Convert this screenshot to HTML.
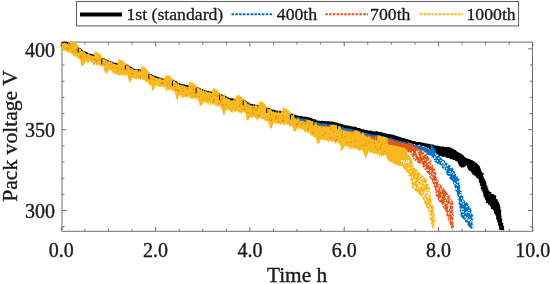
<!DOCTYPE html>
<html><head><meta charset="utf-8"><style>html,body{margin:0;padding:0;background:#fff;width:550px;height:284px;overflow:hidden}svg{display:block}</style></head>
<body><svg width="550" height="284" viewBox="0 0 550 284">
<rect width="550" height="284" fill="#fff"/>
<g fill="none" stroke="#6e6e6e" stroke-width="1">
<path d="M62,42.1 H532.5 V231.3 H62 Z"/>
<path d="M61.30,231.3 v-4.4 M61.30,42.1 v4.4 M84.88,231.3 v-2.5 M84.88,42.1 v2.5 M108.45,231.3 v-2.5 M108.45,42.1 v2.5 M132.02,231.3 v-2.5 M132.02,42.1 v2.5 M155.60,231.3 v-4.4 M155.60,42.1 v4.4 M179.18,231.3 v-2.5 M179.18,42.1 v2.5 M202.75,231.3 v-2.5 M202.75,42.1 v2.5 M226.32,231.3 v-2.5 M226.32,42.1 v2.5 M249.90,231.3 v-4.4 M249.90,42.1 v4.4 M273.47,231.3 v-2.5 M273.47,42.1 v2.5 M297.05,231.3 v-2.5 M297.05,42.1 v2.5 M320.62,231.3 v-2.5 M320.62,42.1 v2.5 M344.20,231.3 v-4.4 M344.20,42.1 v4.4 M367.77,231.3 v-2.5 M367.77,42.1 v2.5 M391.35,231.3 v-2.5 M391.35,42.1 v2.5 M414.93,231.3 v-2.5 M414.93,42.1 v2.5 M438.50,231.3 v-4.4 M438.50,42.1 v4.4 M462.07,231.3 v-2.5 M462.07,42.1 v2.5 M485.65,231.3 v-2.5 M485.65,42.1 v2.5 M509.23,231.3 v-2.5 M509.23,42.1 v2.5 M532.80,231.3 v-4.4 M532.80,42.1 v4.4 M62,226.66 h2.5 M532.5,226.66 h-2.5 M62,210.50 h4.4 M532.5,210.50 h-4.4 M62,194.34 h2.5 M532.5,194.34 h-2.5 M62,178.18 h2.5 M532.5,178.18 h-2.5 M62,162.02 h2.5 M532.5,162.02 h-2.5 M62,145.86 h2.5 M532.5,145.86 h-2.5 M62,129.70 h4.4 M532.5,129.70 h-4.4 M62,113.54 h2.5 M532.5,113.54 h-2.5 M62,97.38 h2.5 M532.5,97.38 h-2.5 M62,81.22 h2.5 M532.5,81.22 h-2.5 M62,65.06 h2.5 M532.5,65.06 h-2.5 M62,48.90 h4.4 M532.5,48.90 h-4.4"/>
</g>
<defs><clipPath id="ax"><rect x="61" y="42.2" width="472" height="189.5"/></clipPath><clipPath id="ax2"><rect x="60" y="41" width="473" height="190.5"/></clipPath></defs>
<g stroke="none" clip-path="url(#ax2)">
<path d="M61.5,42.5 L62.5,42.4 L63.5,42.3 L64.5,42.0 L65.5,42.4 L66.5,42.3 L67.5,42.4 L68.5,42.8 L69.5,42.8 L70.5,43.5 L71.5,43.5 L72.5,43.9 L73.5,44.0 L74.5,44.4 L75.5,45.0 L76.5,45.5 L77.5,46.3 L78.5,47.0 L79.5,48.0 L80.5,48.2 L81.5,49.3 L82.5,50.2 L83.5,50.7 L84.5,51.0 L85.5,51.5 L86.5,51.9 L87.5,52.6 L88.5,52.9 L89.5,53.7 L90.5,53.8 L91.5,53.7 L92.5,54.4 L93.5,54.6 L94.5,55.1 L95.5,55.0 L96.5,55.4 L97.5,55.9 L98.5,56.3 L99.5,56.4 L100.5,57.2 L101.5,57.1 L102.5,57.7 L103.5,58.2 L104.5,58.5 L105.5,58.9 L106.5,59.6 L107.5,59.9 L108.5,60.4 L109.5,60.9 L110.5,61.3 L111.5,61.4 L112.5,61.7 L113.5,62.4 L114.5,62.8 L115.5,63.1 L116.5,62.8 L117.5,63.4 L118.5,63.3 L119.5,63.3 L120.5,63.1 L121.5,63.2 L122.5,63.9 L123.5,63.7 L124.5,64.0 L125.5,64.1 L126.5,64.3 L127.5,64.7 L128.5,65.2 L129.5,66.2 L130.5,66.5 L131.5,66.9 L132.5,67.4 L133.5,68.4 L134.5,68.8 L135.5,69.0 L136.5,69.0 L137.5,69.0 L138.5,69.1 L139.5,69.4 L140.5,69.4 L141.5,69.7 L142.5,70.1 L143.5,70.4 L144.5,70.8 L145.5,71.3 L146.5,71.9 L147.5,72.7 L148.5,73.2 L149.5,73.1 L150.5,73.9 L151.5,74.0 L152.5,74.9 L153.5,75.4 L154.5,75.8 L155.5,76.0 L156.5,76.4 L157.5,76.5 L158.5,77.2 L159.5,77.6 L160.5,77.4 L161.5,78.4 L162.5,78.0 L163.5,78.7 L164.5,78.9 L165.5,78.6 L166.5,79.0 L167.5,79.0 L168.5,78.9 L169.5,79.4 L170.5,79.3 L171.5,79.3 L172.5,79.9 L173.5,79.7 L174.5,80.6 L175.5,80.7 L176.5,81.3 L177.5,82.3 L178.5,82.9 L179.5,83.1 L180.5,83.7 L181.5,84.2 L182.5,84.0 L183.5,84.2 L184.5,84.3 L185.5,85.0 L186.5,85.3 L187.5,85.1 L188.5,85.7 L189.5,85.6 L190.5,85.9 L191.5,86.0 L192.5,86.2 L193.5,86.3 L194.5,86.4 L195.5,86.7 L196.5,86.5 L197.5,87.3 L198.5,87.4 L199.5,88.1 L200.5,88.4 L201.5,88.7 L202.5,89.1 L203.5,89.6 L204.5,89.9 L205.5,90.3 L206.5,90.5 L207.5,90.9 L208.5,90.7 L209.5,91.3 L210.5,91.2 L211.5,91.7 L212.5,91.9 L213.5,91.6 L214.5,92.5 L215.5,92.7 L216.5,92.9 L217.5,92.9 L218.5,93.7 L219.5,93.9 L220.5,93.9 L221.5,94.5 L222.5,94.6 L223.5,95.4 L224.5,95.5 L225.5,96.0 L226.5,96.2 L227.5,96.9 L228.5,97.5 L229.5,98.0 L230.5,98.2 L231.5,98.4 L232.5,98.3 L233.5,98.6 L234.5,98.9 L235.5,99.1 L236.5,99.2 L237.5,98.7 L238.5,98.8 L239.5,99.0 L240.5,99.2 L241.5,99.0 L242.5,99.1 L243.5,99.7 L244.5,100.2 L245.5,100.4 L246.5,101.3 L247.5,101.9 L248.5,102.6 L249.5,103.0 L250.5,104.0 L251.5,103.8 L252.5,104.0 L253.5,104.3 L254.5,104.2 L255.5,104.7 L256.5,104.8 L257.5,104.9 L258.5,105.0 L259.5,104.9 L260.5,104.7 L261.5,105.1 L262.5,105.2 L263.5,105.8 L264.5,106.3 L265.5,106.7 L266.5,107.1 L267.5,107.2 L268.5,108.0 L269.5,108.1 L270.5,108.3 L271.5,109.2 L272.5,109.4 L273.5,109.7 L274.5,110.1 L275.5,109.9 L276.5,110.5 L277.5,110.7 L278.5,110.8 L279.5,110.7 L280.5,111.0 L281.5,111.3 L282.5,111.6 L283.5,111.2 L284.5,111.7 L285.5,111.6 L286.5,112.0 L287.5,112.5 L288.5,112.5 L289.5,113.0 L290.5,113.7 L291.5,113.6 L292.5,113.8 L293.5,114.1 L294.5,114.7 L295.5,114.8 L296.5,115.3 L297.5,115.4 L298.5,115.8 L299.5,116.0 L300.5,116.1 L301.5,116.0 L302.5,116.3 L303.5,116.7 L304.5,116.5 L305.5,116.9 L306.5,116.5 L307.5,117.1 L308.5,117.4 L309.5,117.3 L310.5,117.8 L311.5,118.0 L312.5,118.5 L313.5,119.2 L314.5,119.3 L315.5,119.3 L316.5,120.2 L317.5,120.4 L318.5,120.7 L319.5,120.8 L320.5,120.9 L321.5,120.9 L322.5,120.6 L323.5,121.0 L324.5,121.1 L325.5,121.0 L326.5,121.4 L327.5,120.9 L328.5,121.3 L329.5,121.6 L330.5,121.5 L331.5,121.5 L332.5,121.5 L333.5,121.7 L334.5,121.9 L335.5,122.6 L336.5,122.5 L337.5,122.5 L338.5,123.3 L339.5,123.4 L340.5,123.5 L341.5,124.1 L342.5,124.0 L343.5,124.7 L344.5,125.0 L345.5,125.0 L346.5,125.6 L347.5,125.3 L348.5,125.6 L349.5,126.1 L350.5,126.0 L351.5,126.4 L352.5,126.5 L353.5,126.6 L354.5,126.8 L355.5,126.7 L356.5,127.0 L357.5,127.9 L358.5,128.0 L359.5,128.0 L360.5,128.6 L361.5,129.0 L362.5,129.3 L363.5,129.4 L364.5,129.6 L365.5,130.0 L366.5,129.9 L367.5,130.3 L368.5,130.7 L369.5,130.5 L370.5,130.5 L371.5,130.8 L372.5,131.2 L373.5,131.3 L374.5,131.5 L375.5,131.6 L376.5,131.1 L377.5,131.5 L378.5,131.7 L379.5,132.0 L380.5,131.8 L381.5,132.3 L382.5,132.6 L383.5,133.0 L384.5,133.1 L385.5,133.4 L386.5,133.4 L387.5,133.9 L388.5,133.8 L389.5,133.9 L390.5,134.6 L391.5,134.3 L392.5,134.5 L393.5,134.7 L394.5,135.3 L395.5,135.6 L396.5,136.1 L397.5,136.2 L398.5,136.6 L399.5,136.7 L400.5,136.9 L401.5,137.8 L402.5,137.9 L403.5,138.0 L404.5,138.1 L405.5,138.7 L406.5,138.9 L407.5,139.2 L408.5,139.8 L409.5,139.6 L410.5,140.3 L411.5,140.2 L412.5,140.9 L413.5,141.1 L414.5,141.0 L415.5,141.4 L416.5,141.9 L417.5,142.0 L418.5,141.7 L419.5,142.1 L420.5,142.0 L421.5,142.7 L422.5,142.5 L423.5,142.7 L424.5,142.9 L425.5,143.4 L426.5,143.3 L427.5,143.5 L428.5,144.0 L429.5,143.8 L430.5,144.3 L431.5,144.5 L432.5,144.5 L433.5,144.6 L434.5,145.4 L435.5,145.4 L436.5,145.6 L437.5,145.6 L438.5,146.2 L439.5,146.0 L440.5,146.5 L441.5,146.5 L442.5,146.5 L443.5,146.5 L444.5,147.0 L445.5,147.2 L446.5,146.6 L447.5,147.1 L448.5,146.9 L449.5,147.0 L450.5,147.7 L451.5,147.7 L452.5,148.4 L453.5,149.2 L454.5,149.5 L455.5,150.1 L456.5,151.0 L457.5,151.8 L458.5,152.4 L459.5,152.8 L460.5,153.6 L461.5,153.9 L462.5,154.4 L463.5,155.4 L464.5,156.9 L465.5,157.3 L466.5,158.2 L467.5,158.6 L468.5,158.7 L469.5,159.1 L470.5,159.7 L471.5,160.1 L472.5,160.3 L473.5,160.9 L474.5,161.6 L475.5,162.7 L476.5,162.8 L477.5,164.0 L478.5,164.9 L479.5,166.0 L482.1,172.7 L483.6,172.8 L483.9,174.4 L483.1,174.9 L483.4,176.6 L483.7,177.6 L484.1,178.6 L485.3,179.4 L484.7,180.3 L485.6,180.8 L486.5,182.7 L486.2,183.7 L486.1,183.4 L486.5,185.0 L487.7,186.4 L487.0,187.3 L488.4,187.9 L488.1,188.7 L488.0,189.3 L489.3,190.9 L490.0,191.9 L491.5,192.1 L491.3,193.9 L492.8,194.0 L493.6,194.3 L494.3,195.1 L495.6,195.2 L496.3,196.3 L496.1,198.2 L496.1,198.8 L497.4,199.5 L498.1,199.7 L497.5,201.9 L499.1,201.6 L499.0,202.5 L499.8,204.8 L499.8,205.0 L500.0,206.1 L500.5,207.5 L500.8,208.5 L500.1,208.5 L501.0,210.2 L501.6,210.5 L500.8,212.9 L501.1,212.8 L501.1,215.2 L501.9,216.1 L501.3,217.1 L501.0,217.3 L502.2,219.1 L502.2,220.6 L502.2,220.6 L502.2,222.4 L503.4,223.6 L503.3,223.4 L503.2,224.7 L503.2,225.6 L504.1,227.0 L504.1,229.2 L503.7,229.2 L504.3,230.5 L499.1,229.8 L499.4,229.6 L499.2,229.2 L498.9,227.6 L499.2,226.9 L498.4,225.4 L498.0,224.2 L498.0,223.2 L497.4,222.2 L497.3,220.7 L497.1,220.3 L496.5,219.6 L496.2,218.0 L495.9,217.2 L496.5,215.8 L495.4,215.7 L495.1,213.8 L494.0,213.6 L494.3,211.7 L493.4,210.4 L493.4,210.6 L492.8,209.3 L491.1,208.9 L491.2,208.0 L490.8,207.2 L490.2,206.2 L489.2,204.6 L488.0,204.9 L488.2,203.0 L486.5,203.2 L485.7,202.0 L486.2,200.9 L485.9,200.4 L485.4,199.7 L484.3,197.6 L484.4,196.6 L483.0,196.3 L483.3,195.7 L483.5,194.6 L482.9,192.7 L482.6,191.3 L481.7,191.6 L481.9,190.4 L480.9,188.9 L480.6,188.1 L481.5,186.7 L479.8,185.6 L479.6,184.8 L480.4,184.7 L479.3,182.3 L478.7,181.6 L478.7,180.5 L479.4,179.7 L477.4,178.4 L477.4,177.9 L476.1,177.6 L475.7,176.5 L475.0,175.6 L474.0,175.5 L472.6,174.4 L472.4,173.5 L471.9,173.4 L471.5,172.8 L470.6,170.9 L469.4,171.1 L468.6,170.0 L467.9,169.5 L467.6,168.0 L466.9,166.7 L466.9,166.3 L467.0,164.9 L465.9,165.7 L464.0,167.5 L463.0,167.1 L461.9,168.3 L461.6,167.4 L460.5,166.8 L459.3,165.9 L459.2,165.4 L458.2,163.9 L458.3,162.9 L457.9,162.8 L457.2,161.3 L455.5,161.0 L455.3,160.8 L454.3,159.7 L452.7,160.2 L452.2,158.8 L450.5,159.6 L449.8,158.0 L448.5,158.2 L446.9,157.7 L446.7,158.1 L445.7,157.2 L444.0,156.3 L443.6,157.0 L442.2,156.7 L441.1,156.0 L440.7,155.9 L439.6,156.3 L438.2,156.0 L438.6,155.6 L436.9,154.7 L435.7,154.1 L435.9,152.6 L434.6,152.6 L434.2,151.9 L433.6,151.6 L432.3,149.6 L432.1,149.1 L430.8,149.3 L430.3,148.7 L429.0,149.1 L428.3,147.6 L427.6,147.9 L425.6,147.0 L424.8,147.0 L424.5,146.6 L423.3,146.0 L421.9,145.7 L420.8,146.0 L419.6,145.3 L419.4,144.4 L417.8,145.4 L417.2,145.3 L415.5,144.9 L414.6,143.9 L414.3,144.1 L413.2,144.7 L412.3,143.7 L411.2,143.5 L410.0,143.0 L409.2,142.9 L408.0,143.7 L406.0,143.4 L406.0,143.6 L405.4,142.6 L403.5,142.5 L402.9,142.0 L401.8,141.8 L400.3,142.3 L399.8,142.1 L399.0,141.9 L397.8,140.3 L397.6,140.4 L396.4,140.1 L394.9,140.0 L394.2,139.4 L392.3,139.7 L392.6,139.4 L390.4,140.2 L389.4,138.9 L389.1,138.8 L388.3,138.9 L387.5,138.2 L386.5,139.4 L384.6,138.2 L384.6,138.4 L382.8,138.5 L382.1,138.8 L381.3,138.5 L379.9,138.0 L379.6,138.4 L378.2,137.8 L376.7,137.4 L375.5,137.3 L374.3,136.7 L373.7,136.9 L373.3,136.1 L372.2,137.0 L370.5,135.8 L369.4,136.5 L368.8,135.3 L367.4,135.7 L366.3,136.2 L365.5,136.0 L364.3,135.1 L364.7,134.6 L362.3,135.6 L362.5,134.8 L360.4,134.3 L360.0,134.5 L355.0,132.4 L353.0,132.0 L351.0,131.6 L349.0,131.3 L347.0,130.9 L345.0,130.6 L343.0,129.9 L341.0,129.2 L339.0,128.5 L337.0,127.8 L335.0,127.4 L333.0,127.1 L331.0,126.7 L329.0,126.5 L327.0,126.3 L325.0,126.1 L323.0,126.0 L321.0,125.8 L319.0,125.6 L317.0,125.1 L315.0,124.4 L313.0,123.7 L311.0,123.0 L309.0,122.3 L307.0,121.8 L305.0,121.6 L303.0,121.4 L301.0,121.1 L299.0,120.7 L297.0,120.1 L295.0,119.5 L293.0,118.9 L291.0,118.3 L289.0,117.7 L287.0,117.1 L285.0,116.5 L283.0,116.0 L281.0,115.7 L279.0,115.4 L277.0,115.1 L275.0,114.8 L273.0,114.0 L271.0,113.2 L269.0,112.4 L267.0,111.7 L265.0,111.0 L263.0,110.2 L261.0,109.5 L259.0,109.3 L257.0,109.1 L255.0,108.9 L253.0,108.7 L251.0,108.4 L249.0,107.1 L247.0,105.8 L245.0,104.5 L243.0,103.8 L241.0,103.6 L239.0,103.4 L237.0,103.3 L235.0,103.1 L233.0,103.0 L231.0,102.8 L229.0,101.9 L227.0,101.0 L225.0,100.2 L223.0,99.3 L221.0,98.5 L219.0,97.9 L217.0,97.2 L215.0,96.5 L213.0,96.0 L211.0,95.6 L209.0,95.2 L207.0,94.7 L205.0,94.3 L203.0,93.5 L201.0,92.6 L199.0,91.7 L197.0,90.9 L195.0,90.6 L193.0,90.3 L191.0,90.0 L189.0,89.7 L187.0,89.3 L185.0,88.8 L183.0,88.3 L181.0,87.8 L179.0,87.0 L177.0,85.8 L175.0,84.6 L173.0,83.9 L171.0,83.6 L169.0,83.2 L167.0,82.9 L165.0,82.6 L163.0,82.4 L161.0,81.9 L159.0,81.3 L157.0,80.7 L155.0,80.0 L153.0,79.1 L151.0,78.1 L149.0,77.1 L147.0,76.2 L145.0,75.3 L143.0,74.5 L141.0,73.8 L139.0,73.4 L137.0,73.1 L135.0,72.7 L133.0,71.9 L131.0,70.8 L129.0,69.6 L127.0,68.5 L125.0,68.1 L123.0,67.7 L121.0,67.4 L119.0,67.2 L117.0,67.1 L115.0,66.6 L113.0,65.9 L111.0,65.2 L109.0,64.5 L107.0,63.6 L105.0,62.7 L103.0,61.9 L101.0,61.1 L99.0,60.4 L97.0,59.7 L95.0,58.9 L93.0,58.4 L91.0,57.8 L89.0,57.2 L87.0,56.4 L85.0,55.4 L83.0,54.4 L81.0,52.8 L79.0,51.2 L77.0,49.9 L75.0,48.9 L73.0,47.9 L71.0,47.2 L69.0,46.8 L67.0,46.4 L65.0,46.2 L63.0,46.2 Z" fill="#000"/>
<path d="M61.6,46.5 Q61.6,42.6 64,42.4 L68,42.8" stroke="#000" stroke-width="1.8" fill="none"/>
</g>
<g stroke="none" clip-path="url(#ax)">
<path d="M61.5,43.4 L62.5,43.4 L63.5,44.0 L64.5,43.6 L65.5,43.8 L66.5,43.7 L67.5,44.2 L68.5,44.4 L69.5,44.2 L70.5,44.8 L71.5,44.7 L72.5,45.2 L73.5,45.7 L74.5,46.4 L75.5,46.6 L76.5,47.4 L77.5,48.0 L78.5,48.4 L79.5,49.4 L80.5,50.2 L81.5,50.5 L82.5,51.5 L83.5,52.5 L84.5,52.9 L85.5,53.5 L86.5,53.8 L87.5,54.1 L88.5,54.8 L89.5,54.7 L90.5,55.2 L91.5,55.2 L92.5,55.7 L93.5,56.0 L94.5,56.0 L95.5,56.3 L96.5,57.3 L97.5,57.7 L98.5,57.4 L99.5,58.0 L100.5,58.6 L101.5,58.5 L102.5,58.8 L103.5,59.9 L104.5,59.9 L105.5,60.8 L106.5,60.9 L107.5,61.4 L108.5,61.8 L109.5,62.2 L110.5,62.3 L111.5,63.0 L112.5,63.2 L113.5,63.9 L114.5,63.8 L115.5,64.1 L116.5,64.8 L117.5,64.6 L118.5,64.5 L119.5,65.0 L120.5,64.7 L121.5,65.1 L122.5,65.2 L123.5,65.1 L124.5,65.6 L125.5,65.7 L126.5,65.5 L127.5,66.7 L128.5,66.7 L129.5,67.3 L130.5,68.3 L131.5,68.7 L132.5,68.9 L133.5,69.8 L134.5,69.7 L135.5,70.5 L136.5,70.6 L137.5,70.8 L138.5,70.9 L139.5,70.9 L140.5,71.4 L141.5,71.4 L142.5,71.9 L143.5,71.8 L144.5,72.4 L145.5,72.8 L146.5,73.5 L147.5,74.0 L148.5,74.1 L149.5,75.2 L150.5,75.2 L151.5,75.4 L152.5,76.5 L153.5,76.5 L154.5,76.9 L155.5,77.5 L156.5,78.0 L157.5,78.1 L158.5,78.5 L159.5,78.7 L160.5,79.2 L161.5,79.8 L162.5,79.7 L163.5,80.0 L164.5,79.9 L165.5,79.9 L166.5,80.2 L167.5,80.1 L168.5,80.6 L169.5,81.0 L170.5,80.9 L171.5,80.9 L172.5,81.2 L173.5,81.7 L174.5,81.6 L175.5,82.3 L176.5,83.2 L177.5,83.4 L178.5,84.5 L179.5,84.5 L180.5,84.8 L181.5,85.4 L182.5,85.7 L183.5,86.0 L184.5,86.1 L185.5,86.7 L186.5,87.0 L187.5,86.9 L188.5,87.4 L189.5,87.5 L190.5,87.2 L191.5,87.3 L192.5,87.4 L193.5,87.6 L194.5,88.3 L195.5,88.1 L196.5,88.0 L197.5,88.6 L198.5,88.9 L199.5,89.1 L200.5,89.8 L201.5,90.6 L202.5,90.9 L203.5,91.6 L204.5,91.6 L205.5,92.3 L206.5,92.0 L207.5,92.3 L208.5,92.8 L209.5,92.7 L210.5,92.7 L211.5,93.3 L212.5,93.7 L213.5,93.5 L214.5,93.8 L215.5,94.0 L216.5,94.7 L217.5,94.8 L218.5,95.0 L219.5,95.8 L220.5,95.5 L221.5,96.4 L222.5,96.9 L223.5,96.7 L224.5,97.1 L225.5,98.0 L226.5,98.4 L227.5,98.5 L228.5,99.2 L229.5,99.3 L230.5,100.0 L231.5,100.4 L232.5,100.7 L233.5,100.4 L234.5,100.3 L235.5,101.0 L236.5,100.8 L237.5,100.5 L238.5,100.5 L239.5,100.9 L240.5,100.9 L241.5,101.1 L242.5,101.1 L243.5,101.7 L244.5,102.0 L245.5,102.5 L246.5,102.7 L247.5,103.9 L248.5,104.2 L249.5,105.3 L250.5,105.3 L251.5,105.7 L252.5,105.8 L253.5,106.5 L254.5,106.7 L255.5,106.6 L256.5,106.4 L257.5,106.3 L258.5,107.1 L259.5,106.6 L260.5,107.2 L261.5,107.2 L262.5,107.4 L263.5,107.8 L264.5,107.9 L265.5,108.3 L266.5,109.3 L267.5,109.3 L268.5,109.9 L269.5,110.0 L270.5,110.5 L271.5,111.2 L272.5,111.4 L273.5,111.6 L274.5,112.1 L275.5,112.8 L276.5,112.2 L277.5,112.6 L278.5,112.5 L279.5,112.7 L280.5,112.8 L281.5,113.5 L282.5,113.4 L283.5,113.6 L284.5,113.7 L285.5,114.0 L286.5,114.4 L287.5,115.0 L288.5,114.7 L289.5,115.1 L290.5,115.4 L291.5,115.9 L292.5,116.3 L293.5,116.7 L294.5,117.3 L295.5,117.5 L296.5,117.3 L297.5,117.7 L298.5,118.1 L299.5,118.6 L300.5,118.6 L301.5,118.4 L302.5,118.5 L303.5,118.8 L304.5,119.1 L305.5,118.9 L306.5,119.2 L307.5,119.3 L308.5,120.0 L309.5,120.1 L310.5,120.7 L311.5,120.7 L312.5,121.0 L313.5,121.8 L314.5,121.7 L315.5,122.1 L316.5,122.1 L317.5,122.5 L318.5,122.9 L319.5,122.9 L320.5,123.2 L321.5,123.6 L322.5,123.2 L323.5,123.1 L324.5,123.6 L325.5,123.6 L326.5,123.4 L327.5,124.1 L328.5,124.3 L329.5,124.3 L330.5,124.4 L331.5,124.5 L332.5,124.9 L333.5,124.4 L334.5,125.1 L335.5,125.2 L336.5,125.5 L337.5,125.7 L338.5,125.8 L339.5,126.3 L340.5,126.3 L341.5,126.7 L342.5,126.9 L343.5,127.5 L344.5,128.1 L345.5,128.0 L346.5,128.6 L347.5,128.2 L348.5,128.8 L349.5,128.6 L350.5,129.1 L351.5,129.4 L352.5,129.7 L353.5,129.8 L354.5,129.4 L355.5,130.2 L356.5,130.1 L357.5,130.6 L358.5,130.6 L359.5,131.1 L360.5,131.6 L361.5,131.5 L362.5,132.2 L363.5,132.7 L364.5,132.7 L365.5,132.9 L366.5,133.1 L367.5,133.5 L368.5,133.6 L369.5,134.0 L370.5,134.2 L371.5,134.3 L372.5,134.5 L373.5,134.6 L374.5,134.7 L375.5,134.5 L376.5,134.9 L377.5,134.9 L378.5,134.8 L379.5,135.4 L380.5,135.3 L381.5,136.1 L382.5,136.3 L383.5,136.2 L384.5,136.8 L385.5,137.2 L386.5,137.1 L387.5,137.8 L388.5,138.0 L389.5,137.5 L390.5,138.2 L391.5,138.2 L392.5,138.7 L393.5,139.2 L394.5,139.2 L395.5,139.7 L396.5,139.8 L397.5,140.4 L398.5,141.0 L399.5,140.8 L400.5,140.8 L401.5,141.8 L402.5,141.3 L403.5,142.1 L404.5,142.3 L405.5,142.4 L406.5,143.1 L407.5,142.7 L408.5,143.0 L409.5,143.8 L410.5,143.4 L411.5,143.8 L412.5,144.0 L413.5,144.4 L414.5,144.9 L415.5,145.3 L416.5,144.9 L417.5,144.9 L418.5,145.6 L419.5,145.9 L420.5,145.4 L421.5,146.2 L422.5,146.6 L423.5,146.9 L424.5,147.3 L425.5,147.3 L426.5,148.2 L427.5,147.9 L428.5,148.8 L429.5,149.1 L430.5,149.2 L430.8,144.0 L432.7,145.0 L432.1,146.0 L433.5,147.0 L434.4,148.0 L434.5,149.0 L436.7,150.0 L435.2,151.0 L436.0,152.0 L436.0,153.0 L437.1,154.0 L439.0,155.0 L439.6,156.0 L440.0,157.0 L441.6,158.0 L441.7,159.0 L443.7,160.0 L445.3,161.0 L444.9,162.0 L446.8,163.0 L448.1,164.0 L449.1,165.0 L452.0,166.0 L452.3,167.0 L452.9,168.0 L453.7,169.0 L454.6,170.0 L454.6,171.0 L454.9,172.0 L455.1,173.0 L455.7,174.0 L456.2,175.0 L457.9,176.0 L457.4,177.0 L457.9,178.0 L459.1,179.0 L459.9,180.0 L458.4,181.0 L459.6,182.0 L459.4,183.0 L459.2,184.0 L459.7,185.0 L460.7,186.0 L459.7,187.0 L460.4,188.0 L460.3,189.0 L459.5,190.0 L461.5,191.0 L461.8,192.0 L462.1,193.0 L461.6,194.0 L461.9,195.0 L462.7,196.0 L463.8,197.0 L463.2,198.0 L463.2,199.0 L463.9,200.0 L465.1,201.0 L466.3,202.0 L467.9,203.0 L467.9,204.0 L469.1,205.0 L469.1,206.0 L469.8,207.0 L471.4,208.0 L470.9,209.0 L471.1,210.0 L471.8,211.0 L471.1,212.0 L471.4,213.0 L472.3,214.0 L472.8,215.0 L473.7,216.0 L471.9,217.0 L471.8,218.0 L473.1,219.0 L473.5,220.0 L471.9,221.0 L472.3,222.0 L473.1,223.0 L473.0,224.0 L473.5,225.0 L473.2,226.0 L473.8,227.0 L472.5,228.0 L473.5,229.0 L471.3,229.0 L470.6,228.0 L468.9,227.0 L468.6,226.0 L467.3,225.0 L467.4,224.0 L467.9,223.0 L465.4,222.0 L464.7,221.0 L464.9,220.0 L463.4,219.0 L461.9,218.0 L461.9,217.0 L460.2,216.0 L461.0,215.0 L460.2,214.0 L460.8,213.0 L460.4,212.0 L459.9,211.0 L459.3,210.0 L460.9,209.0 L459.4,208.0 L459.4,207.0 L459.6,206.0 L459.6,205.0 L458.2,204.0 L458.4,203.0 L459.3,202.0 L458.9,201.0 L457.7,200.0 L458.6,199.0 L458.9,198.0 L458.8,197.0 L457.1,196.0 L457.4,195.0 L457.1,194.0 L456.7,193.0 L457.0,192.0 L455.6,191.0 L455.0,190.0 L455.8,189.0 L455.1,188.0 L454.4,187.0 L454.1,186.0 L454.9,185.0 L453.3,184.0 L453.1,183.0 L452.9,182.0 L452.0,181.0 L451.0,180.0 L449.7,179.0 L449.1,178.0 L449.2,177.0 L448.9,176.0 L447.0,175.0 L446.5,174.0 L446.4,173.0 L446.1,172.0 L445.7,171.0 L444.5,170.0 L444.0,169.0 L441.8,168.0 L441.4,167.0 L440.7,166.0 L439.7,165.0 L437.2,164.0 L437.0,163.0 L435.2,162.0 L434.1,161.0 L433.9,160.0 L433.1,159.0 L432.0,158.0 L431.4,157.0 L431.0,156.0 L427.9,155.0 L425.5,154.0 L422.9,153.0 L419.8,152.0 L419.9,151.0 L418.2,150.0 L417.2,149.0 L414.6,148.0 L412.8,147.0 L410.2,146.0 L407.2,145.0 L405.2,144.0 L402.0,147.6 L400.0,147.1 L398.0,146.4 L396.0,145.7 L394.0,145.0 L392.0,144.3 L390.0,143.9 L388.0,143.6 L386.0,143.2 L384.0,142.7 L382.0,142.1 L380.0,141.5 L378.0,141.0 L376.0,140.8 L374.0,140.5 L372.0,140.2 L370.0,139.9 L368.0,139.6 L366.0,139.2 L364.0,138.6 L362.0,137.9 L360.0,137.3 L358.0,136.7 L356.0,136.2 L354.0,135.6 L352.0,135.3 L350.0,134.9 L348.0,134.6 L346.0,134.2 L344.0,133.7 L342.0,133.0 L340.0,132.3 L338.0,131.6 L336.0,131.1 L334.0,130.7 L332.0,130.4 L330.0,130.1 L328.0,129.9 L326.0,129.7 L324.0,129.5 L322.0,129.4 L320.0,129.2 L318.0,129.0 L316.0,128.3 L314.0,127.6 L312.0,126.9 L310.0,126.1 L308.0,125.4 L306.0,125.2 L304.0,125.0 L302.0,124.8 L300.0,124.5 L298.0,123.9 L296.0,123.3 L294.0,122.7 L292.0,122.1 L290.0,121.5 L288.0,120.9 L286.0,120.3 L284.0,119.7 L282.0,119.4 L280.0,119.1 L278.0,118.8 L276.0,118.5 L274.0,117.9 L272.0,117.1 L270.0,116.3 L268.0,115.6 L266.0,114.8 L264.0,114.1 L262.0,113.4 L260.0,112.9 L258.0,112.7 L256.0,112.5 L254.0,112.3 L252.0,112.0 L250.0,111.3 L248.0,110.0 L246.0,108.7 L244.0,107.4 L242.0,107.2 L240.0,107.0 L238.0,106.9 L236.0,106.7 L234.0,106.5 L232.0,106.4 L230.0,105.9 L228.0,105.0 L226.0,104.1 L224.0,103.2 L222.0,102.3 L220.0,101.7 L218.0,101.0 L216.0,100.4 L214.0,99.7 L212.0,99.3 L210.0,98.9 L208.0,98.5 L206.0,98.0 L204.0,97.4 L202.0,96.5 L200.0,95.7 L198.0,94.8 L196.0,94.2 L194.0,94.0 L192.0,93.7 L190.0,93.4 L188.0,93.1 L186.0,92.6 L184.0,92.1 L182.0,91.6 L180.0,91.1 L178.0,89.9 L176.0,88.7 L174.0,87.6 L172.0,87.2 L170.0,86.9 L168.0,86.6 L166.0,85.9 L164.0,85.0 L162.0,84.2 L160.0,83.9 L158.0,83.6 L156.0,83.3 L154.0,82.8 L152.0,82.1 L150.0,81.1 L148.0,80.1 L146.0,79.3 L144.0,78.4 L142.0,77.4 L140.0,76.9 L138.0,76.3 L136.0,76.0 L134.0,75.9 L132.0,74.9 L130.0,73.7 L128.0,72.6 L126.0,71.8 L124.0,71.4 L122.0,71.0 L120.0,70.8 L118.0,70.6 L116.0,70.5 L114.0,69.8 L112.0,69.0 L110.0,68.3 L108.0,67.4 L106.0,66.3 L104.0,65.3 L102.0,64.2 L100.0,63.3 L98.0,62.6 L96.0,61.9 L94.0,61.2 L92.0,60.6 L90.0,60.1 L88.0,60.0 L86.0,59.4 L84.0,58.4 L82.0,57.1 L80.0,55.5 L78.0,53.9 L76.0,52.9 L74.0,51.9 L72.0,50.9 L70.0,50.5 L68.0,49.6 L66.0,48.6 L64.0,48.0 L62.0,47.4 Z" fill="#0072C4"/>
<path d="M449.0,176.0h1.2v1.2h-1.2z M438.3,163.5h1.2v1.2h-1.2z M456.2,184.1h1.2v1.2h-1.2z M462.8,211.0h1.2v1.2h-1.2z M454.6,183.1h1.2v1.2h-1.2z M459.1,194.8h1.2v1.2h-1.2z M467.4,219.6h1.2v1.2h-1.2z M435.2,153.5h1.2v1.2h-1.2z M451.3,180.3h1.2v1.2h-1.2z M459.8,194.1h1.2v1.2h-1.2z M444.6,165.5h1.2v1.2h-1.2z M462.4,208.5h1.2v1.2h-1.2z M448.5,172.7h1.2v1.2h-1.2z M425.3,152.9h1.2v1.2h-1.2z M469.5,207.3h1.2v1.2h-1.2z M441.7,161.8h1.2v1.2h-1.2z M464.8,216.4h1.2v1.2h-1.2z M465.4,218.6h1.2v1.2h-1.2z M446.7,165.1h1.2v1.2h-1.2z M450.7,165.8h1.2v1.2h-1.2z M443.7,166.4h1.2v1.2h-1.2z M472.5,223.0h1.2v1.2h-1.2z M468.4,209.7h1.2v1.2h-1.2z M468.7,219.2h1.2v1.2h-1.2z M461.2,194.4h1.2v1.2h-1.2z M435.9,155.1h1.2v1.2h-1.2z M460.0,185.4h1.2v1.2h-1.2z M451.2,167.0h1.2v1.2h-1.2z M468.6,220.1h1.2v1.2h-1.2z M432.7,158.3h1.2v1.2h-1.2z M472.5,224.7h1.2v1.2h-1.2z M434.5,159.9h1.2v1.2h-1.2z M441.1,162.6h1.2v1.2h-1.2z M456.9,181.5h1.2v1.2h-1.2z M453.9,169.6h1.2v1.2h-1.2z M451.7,171.9h1.2v1.2h-1.2z M454.9,172.6h1.2v1.2h-1.2z M425.5,152.7h1.2v1.2h-1.2z M455.8,187.9h1.2v1.2h-1.2z M457.6,181.1h1.2v1.2h-1.2z M462.1,200.9h1.2v1.2h-1.2z M462.6,214.0h1.2v1.2h-1.2z M456.2,175.4h1.2v1.2h-1.2z M461.2,208.8h1.2v1.2h-1.2z M440.8,166.0h1.2v1.2h-1.2z M449.7,170.8h1.2v1.2h-1.2z M450.5,172.9h1.2v1.2h-1.2z M465.2,201.3h1.2v1.2h-1.2z M460.9,210.8h1.2v1.2h-1.2z M453.7,169.7h1.2v1.2h-1.2z M462.8,203.3h1.2v1.2h-1.2z M450.5,166.8h1.2v1.2h-1.2z M453.9,182.6h1.2v1.2h-1.2z M451.0,166.4h1.2v1.2h-1.2z M469.9,218.7h1.2v1.2h-1.2z M444.8,165.8h1.2v1.2h-1.2z M462.2,211.4h1.2v1.2h-1.2z M425.3,152.5h1.2v1.2h-1.2z M466.6,217.0h1.2v1.2h-1.2z M442.4,164.5h1.2v1.2h-1.2z M436.8,160.3h1.2v1.2h-1.2z M466.2,206.1h1.2v1.2h-1.2z M440.3,165.0h1.2v1.2h-1.2z M460.5,202.1h1.2v1.2h-1.2z M446.1,167.8h1.2v1.2h-1.2z M461.1,197.8h1.2v1.2h-1.2z M470.1,221.3h1.2v1.2h-1.2z M468.5,212.1h1.2v1.2h-1.2z M434.2,157.7h1.2v1.2h-1.2z M466.0,218.3h1.2v1.2h-1.2z M447.4,164.1h1.2v1.2h-1.2z M459.9,189.2h1.2v1.2h-1.2z M456.1,174.8h1.2v1.2h-1.2z M443.1,162.1h1.2v1.2h-1.2z M458.3,200.4h1.2v1.2h-1.2z M434.3,156.6h1.2v1.2h-1.2z M452.0,171.8h1.2v1.2h-1.2z M460.5,202.2h1.2v1.2h-1.2z M443.8,163.3h1.2v1.2h-1.2z M438.3,157.7h1.2v1.2h-1.2z M430.1,155.6h1.2v1.2h-1.2z M453.2,173.5h1.2v1.2h-1.2z M465.4,212.2h1.2v1.2h-1.2z M471.8,225.6h1.2v1.2h-1.2z M462.1,199.8h1.2v1.2h-1.2z M455.7,188.7h1.2v1.2h-1.2z M437.2,154.5h1.2v1.2h-1.2z M471.1,220.0h1.2v1.2h-1.2z M453.0,169.4h1.2v1.2h-1.2z M464.9,201.8h1.2v1.2h-1.2z M425.0,152.9h1.2v1.2h-1.2z M460.9,192.4h1.2v1.2h-1.2z M449.9,166.7h1.2v1.2h-1.2z M466.6,211.3h1.2v1.2h-1.2z M457.1,184.9h1.2v1.2h-1.2z M431.8,157.4h1.2v1.2h-1.2z M443.6,168.2h1.2v1.2h-1.2z M472.1,227.5h1.2v1.2h-1.2z M468.0,204.9h1.2v1.2h-1.2z M464.4,216.3h1.2v1.2h-1.2z M462.3,201.1h1.2v1.2h-1.2z M470.1,213.2h1.2v1.2h-1.2z M445.7,169.8h1.2v1.2h-1.2z M442.4,160.9h1.2v1.2h-1.2z M440.2,159.9h1.2v1.2h-1.2z M460.4,192.0h1.2v1.2h-1.2z" fill="#fff"/>
<path d="M61.5,45.2 L62.5,45.8 L63.5,45.5 L64.5,45.9 L65.5,45.9 L66.5,45.3 L67.5,46.0 L68.5,45.8 L69.5,46.3 L70.5,46.7 L71.5,46.6 L72.5,47.1 L73.5,47.6 L74.5,47.7 L75.5,48.4 L76.5,48.8 L77.5,49.5 L78.5,50.3 L79.5,50.6 L80.5,51.8 L81.5,52.5 L82.5,53.2 L83.5,54.3 L84.5,54.4 L85.5,55.2 L86.5,55.1 L87.5,55.9 L88.5,56.1 L89.5,56.9 L90.5,57.1 L91.5,57.0 L92.5,57.4 L93.5,57.5 L94.5,58.4 L95.5,58.7 L96.5,59.1 L97.5,59.2 L98.5,59.3 L99.5,59.8 L100.5,60.4 L101.5,60.5 L102.5,60.6 L103.5,61.4 L104.5,61.5 L105.5,62.1 L106.5,62.9 L107.5,63.2 L108.5,63.8 L109.5,64.1 L110.5,64.4 L111.5,64.5 L112.5,65.2 L113.5,65.1 L114.5,65.4 L115.5,66.0 L116.5,66.0 L117.5,66.6 L118.5,66.3 L119.5,66.2 L120.5,66.9 L121.5,67.1 L122.5,67.1 L123.5,67.5 L124.5,67.5 L125.5,67.8 L126.5,67.8 L127.5,68.3 L128.5,68.9 L129.5,68.9 L130.5,69.7 L131.5,70.5 L132.5,70.8 L133.5,71.8 L134.5,71.5 L135.5,71.8 L136.5,72.1 L137.5,72.3 L138.5,72.9 L139.5,72.5 L140.5,73.3 L141.5,73.6 L142.5,73.2 L143.5,74.3 L144.5,74.5 L145.5,74.5 L146.5,75.5 L147.5,75.4 L148.5,76.1 L149.5,76.4 L150.5,77.1 L151.5,77.3 L152.5,78.0 L153.5,78.7 L154.5,79.1 L155.5,79.5 L156.5,80.1 L157.5,80.4 L158.5,80.1 L159.5,80.9 L160.5,81.3 L161.5,81.7 L162.5,81.5 L163.5,82.1 L164.5,81.9 L165.5,82.0 L166.5,82.2 L167.5,82.2 L168.5,82.6 L169.5,82.6 L170.5,83.1 L171.5,82.9 L172.5,82.8 L173.5,83.0 L174.5,83.6 L175.5,84.2 L176.5,85.1 L177.5,85.5 L178.5,85.7 L179.5,86.4 L180.5,87.0 L181.5,87.5 L182.5,87.7 L183.5,87.9 L184.5,87.8 L185.5,88.3 L186.5,88.3 L187.5,88.4 L188.5,89.2 L189.5,89.2 L190.5,89.6 L191.5,89.6 L192.5,89.3 L193.5,89.3 L194.5,89.8 L195.5,89.8 L196.5,90.1 L197.5,90.3 L198.5,90.5 L199.5,90.9 L200.5,91.6 L201.5,92.2 L202.5,92.3 L203.5,92.7 L204.5,93.2 L205.5,93.9 L206.5,94.2 L207.5,94.1 L208.5,94.0 L209.5,94.9 L210.5,95.1 L211.5,94.8 L212.5,94.8 L213.5,95.4 L214.5,95.4 L215.5,95.9 L216.5,96.2 L217.5,96.5 L218.5,97.3 L219.5,97.2 L220.5,97.3 L221.5,98.0 L222.5,98.7 L223.5,98.6 L224.5,99.3 L225.5,99.6 L226.5,100.3 L227.5,100.4 L228.5,100.8 L229.5,101.8 L230.5,102.1 L231.5,102.3 L232.5,102.3 L233.5,102.6 L234.5,102.0 L235.5,102.4 L236.5,102.6 L237.5,102.3 L238.5,103.1 L239.5,102.9 L240.5,103.1 L241.5,103.3 L242.5,103.1 L243.5,103.5 L244.5,103.4 L245.5,104.5 L246.5,104.8 L247.5,105.7 L248.5,105.9 L249.5,106.7 L250.5,107.5 L251.5,107.8 L252.5,108.2 L253.5,108.0 L254.5,108.4 L255.5,107.9 L256.5,108.1 L257.5,108.2 L258.5,108.3 L259.5,108.7 L260.5,108.4 L261.5,109.1 L262.5,109.6 L263.5,110.1 L264.5,109.7 L265.5,110.2 L266.5,110.8 L267.5,110.8 L268.5,111.7 L269.5,111.9 L270.5,112.3 L271.5,112.5 L272.5,112.8 L273.5,113.8 L274.5,114.0 L275.5,114.1 L276.5,114.6 L277.5,114.2 L278.5,114.5 L279.5,114.4 L280.5,115.2 L281.5,115.4 L282.5,115.1 L283.5,115.6 L284.5,116.0 L285.5,115.7 L286.5,116.6 L287.5,116.4 L288.5,117.0 L289.5,117.2 L290.5,117.3 L291.5,117.9 L292.5,117.7 L293.5,118.4 L294.5,118.8 L295.5,119.2 L296.5,119.6 L297.5,120.0 L298.5,120.3 L299.5,120.7 L300.5,120.5 L301.5,120.4 L302.5,120.9 L303.5,120.6 L304.5,121.4 L305.5,121.1 L306.5,121.1 L307.5,121.0 L308.5,121.9 L309.5,122.2 L310.5,122.0 L311.5,122.9 L312.5,122.7 L313.5,123.5 L314.5,123.8 L315.5,124.2 L316.5,124.2 L317.5,125.0 L318.5,125.3 L319.5,125.4 L320.5,125.1 L321.5,125.1 L322.5,125.4 L323.5,125.7 L324.5,125.8 L325.5,125.6 L326.5,125.9 L327.5,126.0 L328.5,126.0 L329.5,126.2 L330.5,126.0 L331.5,126.1 L332.5,126.3 L333.5,126.9 L334.5,127.2 L335.5,126.9 L336.5,127.3 L337.5,127.5 L338.5,128.1 L339.5,127.8 L340.5,128.6 L341.5,129.1 L342.5,129.6 L343.5,129.5 L344.5,129.9 L345.5,130.4 L346.5,130.7 L347.5,130.3 L348.5,131.0 L349.5,130.5 L350.5,130.7 L351.5,130.8 L352.5,131.0 L353.5,131.2 L354.5,131.5 L355.5,131.8 L356.5,132.7 L357.5,132.8 L358.5,132.6 L359.5,132.9 L360.5,133.6 L361.5,133.9 L362.5,134.0 L363.5,134.3 L364.5,134.9 L365.5,135.0 L366.5,135.5 L367.5,135.2 L368.5,135.4 L369.5,135.6 L370.5,136.0 L371.5,136.1 L372.5,136.5 L373.5,136.6 L374.5,136.7 L375.5,136.4 L376.5,136.3 L377.5,137.1 L378.5,137.2 L379.5,136.7 L380.5,137.0 L381.5,137.4 L382.5,137.8 L383.5,138.4 L384.5,138.4 L385.5,138.9 L386.5,139.2 L387.5,138.8 L388.5,139.1 L389.5,139.7 L390.5,139.6 L391.5,139.7 L392.5,140.0 L393.5,140.3 L394.5,140.8 L395.5,141.2 L396.5,141.3 L397.5,141.7 L398.5,142.0 L399.5,142.0 L400.5,142.6 L401.5,142.4 L402.5,142.7 L403.5,143.0 L404.5,143.4 L405.5,143.8 L406.5,143.7 L407.5,144.1 L408.5,144.2 L409.5,144.5 L405.9,140.0 L407.3,141.0 L408.0,142.0 L411.0,143.0 L411.1,144.0 L412.9,145.0 L413.2,146.0 L416.7,147.0 L418.1,148.0 L419.9,149.0 L421.5,150.0 L424.1,151.0 L425.5,152.0 L426.2,153.0 L426.6,154.0 L427.3,155.0 L428.2,156.0 L428.3,157.0 L429.1,158.0 L430.6,159.0 L431.5,160.0 L432.2,161.0 L431.0,162.0 L431.6,163.0 L431.7,164.0 L433.0,165.0 L432.7,166.0 L433.1,167.0 L433.0,168.0 L434.8,169.0 L435.6,170.0 L434.4,171.0 L435.5,172.0 L436.3,173.0 L436.7,174.0 L435.8,175.0 L435.5,176.0 L437.1,177.0 L437.2,178.0 L436.8,179.0 L438.5,180.0 L438.6,181.0 L438.9,182.0 L439.5,183.0 L439.0,184.0 L441.3,185.0 L442.0,186.0 L441.3,187.0 L443.5,188.0 L444.2,189.0 L444.8,190.0 L446.2,191.0 L446.2,192.0 L447.7,193.0 L448.2,194.0 L449.5,195.0 L449.8,196.0 L449.3,197.0 L450.4,198.0 L451.2,199.0 L451.7,200.0 L452.7,201.0 L452.9,202.0 L453.3,203.0 L453.5,204.0 L452.7,205.0 L453.0,206.0 L453.2,207.0 L453.2,208.0 L452.4,209.0 L452.6,210.0 L454.0,211.0 L454.0,212.0 L453.1,213.0 L453.0,214.0 L453.8,215.0 L454.4,216.0 L452.8,217.0 L454.0,218.0 L453.2,219.0 L453.2,220.0 L453.6,221.0 L453.0,222.0 L454.2,223.0 L452.9,224.0 L453.6,225.0 L453.9,226.0 L454.2,227.0 L453.7,228.0 L452.8,229.0 L452.1,229.7 L451.0,228.7 L450.7,227.7 L450.9,226.7 L450.3,225.7 L450.4,224.7 L449.6,223.7 L449.8,222.7 L448.3,221.7 L448.8,220.7 L447.4,219.7 L447.5,218.7 L448.7,217.7 L446.6,216.7 L446.3,215.7 L446.2,214.7 L446.8,213.7 L446.8,212.7 L445.2,211.7 L446.0,210.7 L445.1,209.7 L444.2,208.7 L443.0,207.7 L442.4,206.7 L442.2,205.7 L441.8,204.7 L441.5,203.7 L441.2,202.7 L438.8,201.7 L438.8,200.7 L437.9,199.7 L437.0,198.7 L438.5,197.7 L436.4,196.7 L436.4,195.7 L435.3,194.7 L436.7,193.7 L435.0,192.7 L436.0,191.7 L435.1,190.7 L435.3,189.7 L434.6,188.7 L435.0,187.7 L433.4,186.7 L434.0,185.7 L434.4,184.7 L432.6,183.7 L433.0,182.7 L431.6,181.7 L432.3,180.7 L431.6,179.7 L430.6,178.7 L429.6,177.7 L429.1,176.7 L430.1,175.7 L429.2,174.7 L428.7,173.7 L427.1,172.7 L426.1,171.7 L426.9,170.7 L425.0,169.7 L423.9,168.7 L423.7,167.7 L422.2,166.7 L423.3,165.7 L421.8,164.7 L420.0,163.7 L417.4,162.7 L417.5,161.7 L415.3,160.7 L413.1,159.7 L413.0,158.7 L412.8,157.7 L412.3,156.7 L412.3,155.7 L409.9,154.7 L411.3,153.7 L410.6,152.7 L398.0,150.4 L396.0,149.7 L394.0,149.0 L392.0,148.3 L390.0,147.9 L388.0,147.6 L386.0,147.2 L384.0,146.7 L382.0,146.1 L380.0,145.5 L378.0,145.0 L376.0,144.8 L374.0,144.5 L372.0,144.2 L370.0,143.9 L368.0,143.6 L366.0,143.2 L364.0,142.6 L362.0,141.9 L360.0,141.3 L358.0,140.7 L356.0,140.2 L354.0,139.6 L352.0,139.3 L350.0,138.9 L348.0,138.6 L346.0,138.2 L344.0,137.7 L342.0,137.0 L340.0,136.3 L338.0,135.6 L336.0,135.1 L334.0,134.7 L332.0,134.4 L330.0,134.1 L328.0,133.9 L326.0,133.7 L324.0,133.5 L322.0,133.4 L320.0,133.2 L318.0,133.0 L316.0,132.3 L314.0,131.6 L312.0,130.9 L310.0,130.1 L308.0,129.4 L306.0,129.1 L304.0,128.1 L302.0,127.2 L300.0,126.2 L298.0,125.5 L296.0,124.9 L294.0,124.2 L292.0,123.5 L290.0,122.8 L288.0,122.4 L286.0,122.0 L284.0,121.6 L282.0,121.5 L280.0,121.4 L278.0,121.3 L276.0,121.2 L274.0,120.9 L272.0,120.3 L270.0,119.8 L268.0,119.0 L266.0,118.2 L264.0,117.4 L262.0,116.7 L260.0,116.2 L258.0,115.9 L256.0,115.7 L254.0,115.4 L252.0,115.1 L250.0,114.4 L248.0,113.0 L246.0,111.7 L244.0,110.3 L242.0,110.1 L240.0,109.9 L238.0,109.7 L236.0,109.5 L234.0,109.3 L232.0,109.1 L230.0,108.6 L228.0,107.7 L226.0,106.7 L224.0,105.8 L222.0,104.9 L220.0,104.2 L218.0,103.5 L216.0,102.8 L214.0,102.1 L212.0,101.6 L210.0,101.2 L208.0,100.8 L206.0,100.3 L204.0,99.6 L202.0,98.7 L200.0,97.8 L198.0,96.9 L196.0,96.3 L194.0,96.0 L192.0,95.6 L190.0,95.3 L188.0,95.1 L186.0,94.6 L184.0,94.2 L182.0,93.8 L180.0,93.4 L178.0,92.3 L176.0,91.2 L174.0,89.4 L172.0,88.5 L170.0,87.6 L168.0,86.7 L166.0,85.9 L164.0,85.0 L162.0,84.2 L160.0,83.9 L158.0,83.6 L156.0,83.3 L154.0,82.8 L152.0,82.2 L150.0,81.6 L148.0,80.4 L146.0,79.4 L144.0,78.4 L142.0,77.4 L140.0,76.9 L138.0,76.3 L136.0,76.0 L134.0,75.9 L132.0,75.1 L130.0,74.2 L128.0,73.4 L126.0,72.9 L124.0,72.8 L122.0,72.7 L120.0,72.8 L118.0,72.3 L116.0,71.7 L114.0,70.6 L112.0,69.5 L110.0,68.4 L108.0,67.4 L106.0,66.3 L104.0,65.3 L102.0,64.2 L100.0,63.3 L98.0,62.6 L96.0,61.9 L94.0,61.2 L92.0,60.6 L90.0,60.1 L88.0,60.0 L86.0,59.5 L84.0,59.0 L82.0,58.2 L80.0,57.1 L78.0,56.0 L76.0,54.5 L74.0,53.0 L72.0,51.5 L70.0,50.6 L68.0,49.6 L66.0,48.6 L64.0,48.0 L62.0,47.4 Z" fill="#E4561C"/>
<path d="M452.5,215.8h1.2v1.2h-1.2z M447.6,205.1h1.2v1.2h-1.2z M441.5,194.3h1.2v1.2h-1.2z M447.7,204.3h1.2v1.2h-1.2z M450.6,213.2h1.2v1.2h-1.2z M430.1,159.2h1.2v1.2h-1.2z M433.0,180.6h1.2v1.2h-1.2z M439.0,198.8h1.2v1.2h-1.2z M445.0,196.3h1.2v1.2h-1.2z M430.6,159.2h1.2v1.2h-1.2z M421.3,164.4h1.2v1.2h-1.2z M430.0,169.9h1.2v1.2h-1.2z M422.7,154.3h1.2v1.2h-1.2z M428.7,160.2h1.2v1.2h-1.2z M433.4,171.1h1.2v1.2h-1.2z M420.5,161.5h1.2v1.2h-1.2z M446.0,195.0h1.2v1.2h-1.2z M438.3,186.3h1.2v1.2h-1.2z M443.7,206.3h1.2v1.2h-1.2z M447.9,207.3h1.2v1.2h-1.2z M447.8,193.8h1.2v1.2h-1.2z M437.2,192.8h1.2v1.2h-1.2z M416.2,151.8h1.2v1.2h-1.2z M447.8,209.3h1.2v1.2h-1.2z M453.9,222.9h1.2v1.2h-1.2z M428.3,163.8h1.2v1.2h-1.2z M417.0,154.4h1.2v1.2h-1.2z M448.3,207.9h1.2v1.2h-1.2z M437.2,188.2h1.2v1.2h-1.2z M448.3,213.3h1.2v1.2h-1.2z M450.7,201.6h1.2v1.2h-1.2z M443.4,203.7h1.2v1.2h-1.2z M452.8,227.6h1.2v1.2h-1.2z M436.5,177.3h1.2v1.2h-1.2z M438.1,181.7h1.2v1.2h-1.2z M416.5,152.0h1.2v1.2h-1.2z M422.1,151.4h1.2v1.2h-1.2z M451.5,227.9h1.2v1.2h-1.2z M451.8,215.1h1.2v1.2h-1.2z M442.7,204.9h1.2v1.2h-1.2z M411.4,153.1h1.2v1.2h-1.2z M430.8,176.3h1.2v1.2h-1.2z M406.1,150.9h1.2v1.2h-1.2z M426.6,161.5h1.2v1.2h-1.2z M439.7,198.2h1.2v1.2h-1.2z M425.2,152.9h1.2v1.2h-1.2z M449.4,200.2h1.2v1.2h-1.2z M448.6,206.5h1.2v1.2h-1.2z M447.1,194.9h1.2v1.2h-1.2z M424.0,152.5h1.2v1.2h-1.2z M413.5,156.9h1.2v1.2h-1.2z M440.8,197.6h1.2v1.2h-1.2z M411.8,151.3h1.2v1.2h-1.2z M416.0,151.1h1.2v1.2h-1.2z M422.3,150.8h1.2v1.2h-1.2z M445.9,202.6h1.2v1.2h-1.2z M444.9,200.0h1.2v1.2h-1.2z M449.0,204.7h1.2v1.2h-1.2z M450.0,209.6h1.2v1.2h-1.2z M428.8,158.8h1.2v1.2h-1.2z M446.1,196.9h1.2v1.2h-1.2z M450.9,220.1h1.2v1.2h-1.2z M440.1,188.8h1.2v1.2h-1.2z M434.8,180.9h1.2v1.2h-1.2z M427.7,161.0h1.2v1.2h-1.2z M448.7,220.5h1.2v1.2h-1.2z M426.4,169.5h1.2v1.2h-1.2z M426.5,155.1h1.2v1.2h-1.2z M445.9,197.9h1.2v1.2h-1.2z M438.4,184.7h1.2v1.2h-1.2z M436.5,192.5h1.2v1.2h-1.2z M448.8,198.3h1.2v1.2h-1.2z M444.4,202.3h1.2v1.2h-1.2z M422.8,159.9h1.2v1.2h-1.2z M438.1,182.7h1.2v1.2h-1.2z M427.8,169.4h1.2v1.2h-1.2z M430.1,171.6h1.2v1.2h-1.2z M431.9,173.3h1.2v1.2h-1.2z M453.4,228.0h1.2v1.2h-1.2z M442.1,204.7h1.2v1.2h-1.2z M429.5,164.9h1.2v1.2h-1.2z M414.1,155.7h1.2v1.2h-1.2z M448.8,218.5h1.2v1.2h-1.2z M446.2,202.5h1.2v1.2h-1.2z M434.9,184.3h1.2v1.2h-1.2z M449.5,203.6h1.2v1.2h-1.2z M451.8,220.2h1.2v1.2h-1.2z M424.9,159.3h1.2v1.2h-1.2z M424.1,153.5h1.2v1.2h-1.2z M444.5,199.7h1.2v1.2h-1.2z M433.5,174.3h1.2v1.2h-1.2z M411.5,152.3h1.2v1.2h-1.2z M414.6,157.6h1.2v1.2h-1.2z M440.6,190.6h1.2v1.2h-1.2z M416.5,152.6h1.2v1.2h-1.2z M421.3,155.5h1.2v1.2h-1.2z M424.3,166.5h1.2v1.2h-1.2z M448.6,216.4h1.2v1.2h-1.2z M431.1,163.5h1.2v1.2h-1.2z M436.5,180.2h1.2v1.2h-1.2z M446.5,215.9h1.2v1.2h-1.2z M424.9,163.5h1.2v1.2h-1.2z M430.0,174.4h1.2v1.2h-1.2z M424.4,167.6h1.2v1.2h-1.2z M453.6,210.7h1.2v1.2h-1.2z M452.2,211.4h1.2v1.2h-1.2z M450.2,199.6h1.2v1.2h-1.2z M430.7,161.3h1.2v1.2h-1.2z M450.5,225.3h1.2v1.2h-1.2z M413.3,159.0h1.2v1.2h-1.2z M451.4,204.9h1.2v1.2h-1.2z M417.9,150.6h1.2v1.2h-1.2z M430.5,165.2h1.2v1.2h-1.2z M416.2,159.8h1.2v1.2h-1.2z M441.4,188.2h1.2v1.2h-1.2z M436.8,189.4h1.2v1.2h-1.2z M447.8,212.1h1.2v1.2h-1.2z M427.3,160.7h1.2v1.2h-1.2z M416.3,150.7h1.2v1.2h-1.2z M417.5,154.4h1.2v1.2h-1.2z M417.0,153.5h1.2v1.2h-1.2z M422.1,153.9h1.2v1.2h-1.2z M429.1,163.5h1.2v1.2h-1.2z M418.0,155.8h1.2v1.2h-1.2z M421.0,163.6h1.2v1.2h-1.2z M431.8,176.8h1.2v1.2h-1.2z M448.2,212.0h1.2v1.2h-1.2z M446.8,199.4h1.2v1.2h-1.2z M436.6,187.5h1.2v1.2h-1.2z" fill="#fff"/>
<path d="M61.5,41.3 L62.0,43.4 L62.5,43.6 L63.0,40.2 L63.5,44.0 L64.0,41.5 L64.5,43.5 L65.0,41.2 L65.5,43.6 L66.0,42.5 L66.5,43.8 L67.0,43.5 L67.5,44.2 L68.0,44.0 L68.5,40.4 L69.0,42.6 L69.5,44.7 L70.0,40.9 L70.5,44.6 L71.0,39.3 L71.5,40.3 L72.0,39.5 L72.5,39.9 L73.0,40.6 L73.5,40.8 L74.0,40.3 L74.5,41.0 L75.0,41.7 L75.5,42.1 L76.0,42.4 L76.5,43.3 L77.0,43.2 L77.5,44.8 L78.0,45.4 L78.5,45.9 L79.0,46.0 L79.5,47.8 L80.0,49.1 L80.5,48.6 L81.0,49.1 L81.5,51.0 L82.0,50.9 L82.5,51.4 L83.0,49.9 L83.5,50.6 L84.0,52.4 L84.5,49.7 L85.0,53.2 L85.5,53.0 L86.0,53.3 L86.5,53.9 L87.0,54.0 L87.5,54.4 L88.0,54.1 L88.5,52.5 L89.0,54.4 L89.5,54.9 L90.0,54.7 L90.5,55.5 L91.0,55.0 L91.5,55.5 L92.0,55.8 L92.5,56.1 L93.0,55.9 L93.5,56.2 L94.0,56.5 L94.5,51.7 L95.0,51.7 L95.5,51.6 L96.0,52.1 L96.5,51.3 L97.0,52.7 L97.5,52.0 L98.0,52.7 L98.5,52.6 L99.0,53.3 L99.5,54.2 L100.0,53.6 L100.5,53.8 L101.0,56.1 L101.5,56.6 L102.0,56.3 L102.5,56.5 L103.0,58.2 L103.5,58.9 L104.0,59.1 L104.5,59.1 L105.0,59.9 L105.5,56.7 L106.0,60.7 L106.5,58.7 L107.0,61.0 L107.5,61.5 L108.0,61.5 L108.5,62.1 L109.0,58.0 L109.5,62.1 L110.0,60.4 L110.5,62.7 L111.0,62.5 L111.5,61.3 L112.0,60.0 L112.5,62.9 L113.0,63.2 L113.5,63.4 L114.0,63.9 L114.5,64.1 L115.0,63.8 L115.5,64.4 L116.0,64.5 L116.5,64.4 L117.0,64.8 L117.5,64.9 L118.0,59.7 L118.5,60.0 L119.0,59.2 L119.5,59.8 L120.0,59.4 L120.5,60.3 L121.0,59.4 L121.5,59.6 L122.0,60.5 L122.5,61.1 L123.0,61.1 L123.5,60.7 L124.0,61.1 L124.5,63.2 L125.0,63.5 L125.5,62.8 L126.0,62.8 L126.5,64.8 L127.0,65.3 L127.5,65.4 L128.0,65.4 L128.5,66.7 L129.0,63.2 L129.5,67.6 L130.0,67.5 L130.5,67.8 L131.0,68.6 L131.5,68.4 L132.0,66.4 L132.5,68.8 L133.0,69.8 L133.5,68.4 L134.0,70.1 L134.5,70.5 L135.0,70.6 L135.5,67.6 L136.0,70.2 L136.5,67.5 L137.0,69.3 L137.5,69.3 L138.0,71.2 L138.5,71.2 L139.0,70.9 L139.5,67.1 L140.0,71.5 L140.5,71.4 L141.0,69.6 L141.5,66.2 L142.0,66.3 L142.5,66.3 L143.0,66.3 L143.5,67.6 L144.0,66.8 L144.5,66.9 L145.0,67.6 L145.5,67.4 L146.0,68.6 L146.5,69.4 L147.0,69.3 L147.5,69.2 L148.0,71.6 L148.5,71.4 L149.0,72.1 L149.5,72.3 L150.0,73.8 L150.5,74.3 L151.0,74.9 L151.5,74.8 L152.0,76.3 L152.5,76.0 L153.0,76.6 L153.5,76.8 L154.0,75.6 L154.5,77.6 L155.0,77.4 L155.5,77.9 L156.0,77.5 L156.5,77.8 L157.0,77.8 L157.5,78.2 L158.0,78.6 L158.5,78.8 L159.0,78.6 L159.5,78.7 L160.0,77.5 L160.5,78.9 L161.0,76.3 L161.5,79.8 L162.0,79.9 L162.5,79.7 L163.0,76.3 L163.5,80.0 L164.0,79.7 L164.5,76.3 L165.0,78.3 L165.5,75.0 L166.0,75.2 L166.5,75.3 L167.0,74.9 L167.5,75.9 L168.0,75.0 L168.5,75.5 L169.0,75.3 L169.5,76.5 L170.0,76.7 L170.5,76.5 L171.0,76.3 L171.5,78.5 L172.0,78.3 L172.5,78.8 L173.0,78.8 L173.5,80.7 L174.0,80.4 L174.5,80.8 L175.0,81.3 L175.5,82.5 L176.0,82.4 L176.5,82.9 L177.0,81.8 L177.5,83.6 L178.0,84.1 L178.5,82.1 L179.0,84.4 L179.5,84.6 L180.0,84.9 L180.5,85.3 L181.0,85.3 L181.5,85.8 L182.0,84.3 L182.5,86.1 L183.0,82.5 L183.5,86.2 L184.0,85.9 L184.5,85.8 L185.0,86.0 L185.5,86.7 L186.0,86.6 L186.5,86.6 L187.0,86.5 L187.5,87.1 L188.0,87.1 L188.5,87.4 L189.0,81.8 L189.5,82.5 L190.0,81.5 L190.5,82.7 L191.0,82.1 L191.5,82.1 L192.0,82.3 L192.5,82.2 L193.0,83.0 L193.5,83.6 L194.0,83.7 L194.5,83.9 L195.0,84.0 L195.5,85.3 L196.0,85.5 L196.5,85.4 L197.0,86.1 L197.5,87.5 L198.0,88.1 L198.5,88.0 L199.0,87.9 L199.5,89.8 L200.0,85.8 L200.5,89.7 L201.0,90.0 L201.5,88.3 L202.0,87.8 L202.5,90.9 L203.0,91.3 L203.5,87.5 L204.0,91.7 L204.5,90.3 L205.0,92.2 L205.5,88.9 L206.0,88.5 L206.5,91.8 L207.0,92.3 L207.5,92.6 L208.0,90.2 L208.5,92.2 L209.0,93.0 L209.5,92.4 L210.0,89.6 L210.5,93.1 L211.0,92.8 L211.5,93.0 L212.0,93.6 L212.5,88.1 L213.0,88.9 L213.5,87.7 L214.0,88.1 L214.5,88.8 L215.0,89.4 L215.5,88.4 L216.0,89.5 L216.5,88.7 L217.0,90.6 L217.5,90.9 L218.0,90.8 L218.5,90.7 L219.0,92.5 L219.5,93.0 L220.0,92.6 L220.5,93.5 L221.0,95.2 L221.5,95.4 L222.0,95.6 L222.5,95.1 L223.0,96.5 L223.5,95.0 L224.0,97.3 L224.5,93.2 L225.0,95.1 L225.5,97.7 L226.0,98.4 L226.5,98.0 L227.0,95.8 L227.5,99.1 L228.0,98.6 L228.5,99.4 L229.0,97.4 L229.5,99.7 L230.0,100.1 L230.5,100.0 L231.0,100.5 L231.5,100.7 L232.0,100.2 L232.5,100.3 L233.0,100.8 L233.5,100.5 L234.0,96.3 L234.5,100.8 L235.0,97.2 L235.5,100.4 L236.0,95.9 L236.5,95.4 L237.0,95.5 L237.5,95.5 L238.0,95.0 L238.5,95.2 L239.0,95.4 L239.5,95.5 L240.0,95.0 L240.5,96.7 L241.0,96.3 L241.5,96.3 L242.0,96.8 L242.5,98.8 L243.0,98.1 L243.5,98.4 L244.0,98.5 L244.5,100.8 L245.0,101.0 L245.5,101.1 L246.0,101.6 L246.5,102.6 L247.0,101.4 L247.5,103.9 L248.0,103.9 L248.5,104.7 L249.0,100.6 L249.5,104.7 L250.0,105.6 L250.5,105.8 L251.0,104.2 L251.5,105.9 L252.0,105.8 L252.5,105.7 L253.0,106.5 L253.5,103.9 L254.0,106.1 L254.5,106.7 L255.0,102.5 L255.5,106.1 L256.0,103.5 L256.5,103.7 L257.0,106.4 L257.5,107.0 L258.0,103.8 L258.5,103.1 L259.0,107.1 L259.5,101.6 L260.0,101.1 L260.5,101.0 L261.0,101.4 L261.5,101.3 L262.0,102.4 L262.5,102.6 L263.0,101.9 L263.5,101.7 L264.0,103.7 L264.5,104.0 L265.0,103.8 L265.5,103.5 L266.0,106.2 L266.5,106.3 L267.0,106.5 L267.5,106.5 L268.0,108.6 L268.5,109.2 L269.0,108.8 L269.5,109.5 L270.0,107.9 L270.5,108.1 L271.0,107.6 L271.5,110.6 L272.0,111.2 L272.5,111.4 L273.0,111.6 L273.5,111.4 L274.0,111.5 L274.5,112.2 L275.0,112.4 L275.5,112.0 L276.0,109.2 L276.5,112.8 L277.0,112.6 L277.5,112.8 L278.0,112.8 L278.5,109.5 L279.0,110.7 L279.5,112.7 L280.0,113.3 L280.5,113.0 L281.0,111.5 L281.5,110.5 L282.0,109.1 L282.5,113.1 L283.0,107.7 L283.5,107.5 L284.0,107.8 L284.5,107.7 L285.0,108.1 L285.5,108.1 L286.0,109.3 L286.5,108.6 L287.0,108.9 L287.5,109.9 L288.0,109.8 L288.5,110.0 L289.0,110.0 L289.5,112.0 L290.0,112.5 L290.5,112.7 L291.0,112.6 L291.5,115.2 L292.0,115.4 L292.5,115.6 L293.0,115.0 L293.5,112.8 L294.0,112.7 L294.5,118.1 L295.0,118.1 L295.5,118.7 L296.0,118.8 L296.5,119.5 L297.0,119.4 L297.5,119.5 L298.0,115.8 L298.5,119.7 L299.0,116.4 L299.5,120.8 L300.0,120.8 L300.5,121.0 L301.0,120.5 L301.5,120.8 L302.0,121.4 L302.5,120.9 L303.0,121.4 L303.5,121.2 L304.0,121.6 L304.5,122.1 L305.0,122.2 L305.5,122.3 L306.0,122.0 L306.5,119.9 L307.0,119.4 L307.5,119.8 L308.0,119.8 L308.5,120.1 L309.0,120.2 L309.5,120.0 L310.0,120.4 L310.5,120.5 L311.0,121.2 L311.5,121.2 L312.0,121.1 L312.5,121.1 L313.0,121.2 L313.5,121.6 L314.0,121.7 L314.5,122.4 L315.0,122.5 L315.5,122.4 L316.0,122.3 L316.5,122.7 L317.0,125.5 L317.5,126.0 L318.0,125.4 L318.5,125.6 L319.0,125.9 L319.5,125.7 L320.0,126.0 L320.5,126.1 L321.0,126.0 L321.5,126.4 L322.0,126.3 L322.5,126.1 L323.0,126.5 L323.5,126.3 L324.0,126.4 L324.5,126.4 L325.0,126.3 L325.5,126.7 L326.0,126.6 L326.5,126.5 L327.0,126.7 L327.5,126.8 L328.0,126.9 L328.5,126.9 L329.0,126.6 L329.5,127.0 L330.0,127.0 L330.5,124.2 L331.0,124.8 L331.5,125.0 L332.0,124.3 L332.5,125.1 L333.0,124.8 L333.5,124.6 L334.0,124.6 L334.5,125.3 L335.0,124.7 L335.5,125.2 L336.0,125.5 L336.5,125.0 L337.0,125.2 L337.5,125.7 L338.0,126.2 L338.5,126.6 L339.0,126.1 L339.5,126.2 L340.0,126.3 L340.5,127.0 L341.0,129.6 L341.5,129.6 L342.0,130.0 L342.5,129.7 L343.0,129.9 L343.5,130.5 L344.0,130.3 L344.5,130.3 L345.0,130.8 L345.5,130.7 L346.0,130.9 L346.5,131.1 L347.0,131.0 L347.5,131.3 L348.0,131.7 L348.5,131.6 L349.0,131.5 L349.5,131.7 L350.0,131.7 L350.5,131.6 L351.0,132.0 L351.5,131.9 L352.0,132.2 L352.5,131.8 L353.0,132.3 L353.5,132.6 L354.0,130.4 L354.5,130.5 L355.0,130.4 L355.5,130.6 L356.0,130.5 L356.5,130.8 L357.0,130.6 L357.5,130.5 L358.0,131.5 L358.5,131.2 L359.0,131.1 L359.5,131.7 L360.0,132.0 L360.5,131.5 L361.0,132.0 L361.5,131.9 L362.0,132.7 L362.5,132.2 L363.0,132.5 L363.5,132.5 L364.0,133.2 L364.5,135.6 L365.0,135.5 L365.5,136.0 L366.0,136.5 L366.5,136.5 L367.0,136.4 L367.5,136.8 L368.0,137.4 L368.5,134.7 L369.0,137.5 L369.5,135.2 L370.0,138.1 L370.5,138.5 L371.0,135.8 L371.5,138.9 L372.0,138.7 L372.5,139.0 L373.0,139.5 L373.5,139.0 L374.0,139.8 L374.5,139.7 L375.0,140.1 L375.5,135.3 L376.0,140.6 L376.5,140.7 L377.0,140.9 L377.5,134.8 L378.0,135.6 L378.5,135.9 L379.0,135.2 L379.5,135.7 L380.0,136.1 L380.5,135.9 L381.0,136.1 L381.5,136.5 L382.0,136.8 L382.5,136.5 L383.0,136.8 L383.5,136.6 L384.0,136.6 L384.5,136.9 L385.0,136.9 L385.5,137.1 L386.0,137.3 L386.5,137.7 L387.0,138.2 L387.5,137.6 L388.0,144.2 L388.5,144.7 L389.0,144.3 L389.5,144.5 L390.0,145.1 L390.5,145.0 L391.0,145.1 L391.5,145.0 L396.7,146.0 L400.3,147.0 L405.0,148.0 L405.1,149.0 L407.3,150.0 L407.8,151.0 L406.8,152.0 L407.9,153.0 L407.1,154.0 L408.7,155.0 L409.4,156.0 L410.7,157.0 L410.4,158.0 L411.1,159.0 L412.8,160.0 L411.9,161.0 L413.5,162.0 L412.3,163.0 L412.3,164.0 L412.6,165.0 L414.1,166.0 L413.1,167.0 L414.8,168.0 L415.4,169.0 L417.6,170.0 L417.1,171.0 L418.4,172.0 L420.5,173.0 L421.0,174.0 L421.2,175.0 L424.0,176.0 L423.7,177.0 L424.6,178.0 L426.0,179.0 L426.2,180.0 L427.7,181.0 L427.4,182.0 L427.2,183.0 L428.2,184.0 L429.2,185.0 L428.4,186.0 L429.4,187.0 L429.7,188.0 L430.1,189.0 L429.6,190.0 L429.5,191.0 L430.6,192.0 L431.2,193.0 L430.7,194.0 L430.3,195.0 L431.7,196.0 L431.3,197.0 L431.7,198.0 L430.6,199.0 L432.1,200.0 L431.5,201.0 L432.9,202.0 L431.9,203.0 L431.7,204.0 L432.6,205.0 L433.6,206.0 L433.8,207.0 L434.3,208.0 L433.2,209.0 L434.2,210.0 L433.2,211.0 L433.6,212.0 L433.4,213.0 L434.7,214.0 L435.3,215.0 L434.8,216.0 L434.9,217.0 L435.5,218.0 L434.5,219.0 L435.0,220.0 L435.6,221.0 L434.4,222.0 L435.4,223.0 L434.2,224.0 L434.7,225.0 L434.4,226.0 L434.9,227.0 L434.4,228.0 L434.1,229.0 L433.6,229.0 L432.7,228.0 L431.6,227.0 L432.0,226.0 L431.4,225.0 L430.7,224.0 L431.2,223.0 L431.3,222.0 L431.3,221.0 L429.6,220.0 L429.5,219.0 L430.1,218.0 L430.3,217.0 L429.5,216.0 L430.5,215.0 L428.4,214.0 L428.5,213.0 L428.2,212.0 L427.4,211.0 L428.5,210.0 L428.4,209.0 L426.5,208.0 L426.0,207.0 L425.8,206.0 L426.2,205.0 L425.1,204.0 L423.8,203.0 L423.8,202.0 L424.7,201.0 L423.7,200.0 L422.3,199.0 L421.9,198.0 L420.7,197.0 L420.7,196.0 L420.2,195.0 L417.9,194.0 L418.3,193.0 L417.5,192.0 L414.9,191.0 L414.5,190.0 L414.5,189.0 L412.4,188.0 L411.8,187.0 L411.1,186.0 L412.6,185.0 L411.3,184.0 L411.1,183.0 L411.6,182.0 L411.7,181.0 L409.9,180.0 L409.7,179.0 L411.2,178.0 L410.3,177.0 L408.4,176.0 L408.4,175.0 L409.7,174.0 L406.6,173.0 L406.5,172.0 L406.6,171.0 L405.5,170.0 L404.2,169.0 L403.0,168.0 L403.5,167.0 L398.8,166.0 L396.9,165.0 L394.0,164.0 L393.5,163.0 L389.8,162.0 L389.5,161.0 L386.9,160.0 L387.9,159.0 L386.0,158.0 L387.4,157.0 L386.1,156.0 L385.9,155.0 L382.5,155.8 L382.0,156.8 L381.5,157.2 L381.0,155.2 L380.5,154.7 L380.0,156.6 L379.5,155.9 L379.0,156.3 L378.5,153.5 L378.0,153.2 L377.5,155.2 L377.0,154.0 L376.5,155.3 L376.0,153.3 L375.5,153.6 L375.0,154.4 L374.5,153.8 L374.0,153.7 L373.5,153.7 L373.0,152.1 L372.5,153.3 L372.0,152.9 L371.5,151.9 L371.0,152.4 L370.5,153.5 L370.0,153.3 L369.5,152.4 L369.0,151.7 L368.5,151.6 L368.0,151.5 L367.5,155.2 L367.0,154.8 L366.5,156.9 L366.0,156.9 L365.5,160.2 L365.0,156.0 L364.5,157.3 L364.0,153.2 L363.5,152.7 L363.0,150.8 L362.5,152.0 L362.0,149.5 L361.5,150.1 L361.0,149.3 L360.5,151.7 L360.0,149.4 L359.5,151.3 L359.0,149.7 L358.5,150.8 L358.0,150.0 L357.5,148.7 L357.0,150.0 L356.5,149.0 L356.0,148.3 L355.5,147.8 L355.0,148.8 L354.5,149.2 L354.0,148.0 L353.5,149.1 L353.0,147.5 L352.5,147.5 L352.0,149.3 L351.5,148.3 L351.0,149.8 L350.5,147.6 L350.0,147.6 L349.5,151.6 L349.0,146.4 L348.5,146.9 L348.0,146.9 L347.5,146.1 L347.0,145.9 L346.5,147.2 L346.0,145.3 L345.5,147.1 L345.0,147.0 L344.5,144.9 L344.0,150.2 L343.5,147.1 L343.0,150.1 L342.5,149.5 L342.0,149.5 L341.5,151.3 L341.0,151.2 L340.5,145.1 L340.0,145.7 L339.5,142.9 L339.0,143.9 L338.5,144.3 L338.0,142.6 L337.5,142.1 L337.0,142.4 L336.5,141.9 L336.0,143.3 L335.5,143.7 L335.0,143.3 L334.5,142.9 L334.0,141.9 L333.5,141.7 L333.0,141.1 L332.5,140.8 L332.0,142.5 L331.5,142.4 L331.0,141.2 L330.5,140.1 L330.0,140.6 L329.5,140.6 L329.0,142.5 L328.5,142.2 L328.0,140.3 L327.5,141.7 L327.0,139.4 L326.5,141.1 L326.0,139.9 L325.5,140.2 L325.0,140.4 L324.5,141.2 L324.0,139.1 L323.5,140.2 L323.0,139.6 L322.5,140.2 L322.0,138.5 L321.5,138.7 L321.0,140.3 L320.5,139.9 L320.0,140.8 L319.5,142.7 L319.0,144.7 L318.5,143.7 L318.0,142.7 L317.5,143.2 L317.0,143.5 L316.5,140.5 L316.0,138.1 L315.5,137.4 L315.0,136.7 L314.5,137.5 L314.0,137.2 L313.5,137.0 L313.0,134.7 L312.5,136.9 L312.0,136.1 L311.5,134.0 L311.0,136.5 L310.5,135.5 L310.0,133.6 L309.5,133.0 L309.0,132.1 L308.5,132.7 L308.0,133.4 L307.5,133.2 L307.0,131.6 L306.5,131.8 L306.0,131.7 L305.5,133.4 L305.0,131.6 L304.5,133.1 L304.0,129.8 L303.5,130.3 L303.0,129.2 L302.5,130.5 L302.0,128.5 L301.5,128.6 L301.0,130.2 L300.5,130.0 L300.0,127.4 L299.5,128.7 L299.0,129.4 L298.5,128.9 L298.0,126.7 L297.5,128.6 L297.0,128.3 L296.5,130.4 L296.0,130.5 L295.5,131.7 L295.0,131.4 L294.5,131.4 L294.0,130.4 L293.5,132.4 L293.0,127.7 L292.5,126.5 L292.0,125.9 L291.5,126.7 L291.0,126.3 L290.5,126.1 L290.0,126.2 L289.5,126.5 L289.0,126.2 L288.5,123.7 L288.0,125.1 L287.5,125.3 L287.0,124.7 L286.5,124.4 L286.0,124.8 L285.5,123.8 L285.0,123.6 L284.5,125.5 L284.0,125.4 L283.5,124.9 L283.0,124.1 L282.5,123.8 L282.0,122.8 L281.5,124.9 L281.0,124.4 L280.5,123.7 L280.0,126.6 L279.5,123.3 L279.0,122.9 L278.5,124.3 L278.0,123.7 L277.5,123.9 L277.0,122.9 L276.5,124.0 L276.0,122.6 L275.5,124.9 L275.0,123.4 L274.5,122.9 L274.0,123.1 L273.5,123.9 L273.0,126.0 L272.5,124.7 L272.0,128.8 L271.5,128.5 L271.0,128.4 L270.5,127.7 L270.0,128.6 L269.5,124.9 L269.0,120.7 L268.5,125.5 L268.0,122.1 L267.5,120.8 L267.0,121.5 L266.5,121.6 L266.0,119.6 L265.5,121.4 L265.0,121.3 L264.5,120.1 L264.0,121.0 L263.5,119.6 L263.0,118.5 L262.5,119.5 L262.0,119.1 L261.5,120.1 L261.0,117.9 L260.5,117.8 L260.0,118.5 L259.5,118.0 L259.0,118.7 L258.5,117.5 L258.0,121.1 L257.5,120.7 L257.0,117.6 L256.5,121.0 L256.0,118.0 L255.5,118.5 L255.0,116.7 L254.5,117.5 L254.0,117.1 L253.5,117.1 L253.0,117.2 L252.5,117.4 L252.0,117.5 L251.5,118.6 L251.0,117.3 L250.5,116.6 L250.0,117.7 L249.5,119.7 L249.0,117.5 L248.5,120.5 L248.0,120.4 L247.5,120.0 L247.0,119.7 L246.5,120.9 L246.0,115.1 L245.5,113.0 L245.0,112.8 L244.5,114.0 L244.0,111.6 L243.5,112.5 L243.0,111.6 L242.5,112.5 L242.0,113.1 L241.5,113.0 L241.0,113.6 L240.5,112.6 L240.0,113.4 L239.5,112.9 L239.0,111.6 L238.5,111.9 L238.0,112.8 L237.5,111.2 L237.0,110.8 L236.5,111.4 L236.0,111.2 L235.5,111.5 L235.0,111.9 L234.5,112.3 L234.0,113.0 L233.5,110.6 L233.0,110.6 L232.5,112.5 L232.0,112.9 L231.5,111.6 L231.0,112.8 L230.5,112.0 L230.0,111.0 L229.5,110.0 L229.0,110.0 L228.5,109.4 L228.0,110.4 L227.5,109.3 L227.0,109.0 L226.5,110.0 L226.0,111.7 L225.5,110.0 L225.0,114.0 L224.5,114.6 L224.0,114.3 L223.5,114.2 L223.0,116.3 L222.5,110.8 L222.0,110.3 L221.5,108.2 L221.0,107.8 L220.5,107.3 L220.0,105.5 L219.5,107.0 L219.0,106.1 L218.5,105.2 L218.0,106.8 L217.5,106.9 L217.0,105.5 L216.5,105.0 L216.0,106.2 L215.5,104.5 L215.0,106.2 L214.5,104.7 L214.0,104.6 L213.5,103.6 L213.0,103.7 L212.5,104.4 L212.0,104.6 L211.5,103.1 L211.0,103.7 L210.5,106.9 L210.0,104.0 L209.5,102.9 L209.0,102.3 L208.5,104.7 L208.0,106.2 L207.5,102.9 L207.0,103.7 L206.5,102.5 L206.0,102.1 L205.5,102.9 L205.0,102.6 L204.5,102.2 L204.0,101.5 L203.5,101.6 L203.0,104.1 L202.5,104.4 L202.0,103.4 L201.5,105.8 L201.0,106.1 L200.5,105.4 L200.0,105.6 L199.5,104.9 L199.0,100.5 L198.5,102.3 L198.0,98.3 L197.5,100.2 L197.0,98.3 L196.5,99.6 L196.0,98.9 L195.5,97.5 L195.0,97.5 L194.5,98.4 L194.0,99.0 L193.5,98.6 L193.0,98.8 L192.5,99.4 L192.0,98.3 L191.5,99.2 L191.0,98.6 L190.5,98.6 L190.0,97.6 L189.5,97.5 L189.0,97.9 L188.5,96.3 L188.0,96.8 L187.5,96.4 L187.0,96.9 L186.5,97.7 L186.0,96.7 L185.5,97.7 L185.0,96.1 L184.5,96.9 L184.0,98.1 L183.5,97.7 L183.0,97.7 L182.5,96.9 L182.0,99.8 L181.5,95.7 L181.0,95.1 L180.5,97.1 L180.0,95.9 L179.5,95.3 L179.0,94.8 L178.5,96.8 L178.0,97.4 L177.5,102.9 L177.0,100.1 L176.5,97.9 L176.0,99.2 L175.5,94.3 L175.0,93.7 L174.5,91.8 L174.0,91.4 L173.5,91.1 L173.0,91.7 L172.5,90.8 L172.0,91.3 L171.5,89.5 L171.0,89.8 L170.5,89.1 L170.0,90.6 L169.5,89.8 L169.0,90.1 L168.5,89.8 L168.0,89.7 L167.5,89.3 L167.0,88.9 L166.5,92.1 L166.0,92.4 L165.5,87.0 L165.0,87.2 L164.5,87.4 L164.0,87.3 L163.5,88.2 L163.0,86.4 L162.5,85.8 L162.0,86.9 L161.5,86.8 L161.0,87.3 L160.5,87.0 L160.0,86.5 L159.5,86.2 L159.0,87.4 L158.5,87.3 L158.0,85.8 L157.5,85.7 L157.0,85.3 L156.5,86.8 L156.0,84.6 L155.5,84.9 L155.0,88.9 L154.5,86.7 L154.0,91.7 L153.5,89.9 L153.0,89.6 L152.5,90.0 L152.0,90.9 L151.5,85.6 L151.0,85.1 L150.5,86.5 L150.0,84.4 L149.5,84.5 L149.0,84.9 L148.5,82.4 L148.0,83.0 L147.5,82.0 L147.0,82.1 L146.5,83.0 L146.0,81.9 L145.5,80.5 L145.0,81.8 L144.5,80.3 L144.0,80.1 L143.5,79.6 L143.0,80.2 L142.5,79.7 L142.0,78.7 L141.5,78.4 L141.0,78.8 L140.5,79.7 L140.0,80.2 L139.5,78.6 L139.0,78.6 L138.5,79.1 L138.0,80.1 L137.5,78.0 L137.0,78.1 L136.5,79.8 L136.0,79.6 L135.5,78.4 L135.0,79.0 L134.5,77.3 L134.0,79.4 L133.5,78.1 L133.0,78.0 L132.5,78.2 L132.0,77.9 L131.5,80.7 L131.0,79.4 L130.5,84.0 L130.0,81.8 L129.5,82.8 L129.0,80.1 L128.5,80.6 L128.0,77.4 L127.5,74.6 L127.0,76.3 L126.5,75.8 L126.0,74.1 L125.5,75.0 L125.0,74.4 L124.5,76.7 L124.0,76.4 L123.5,73.9 L123.0,75.1 L122.5,75.4 L122.0,74.3 L121.5,76.3 L121.0,74.6 L120.5,75.2 L120.0,75.3 L119.5,75.5 L119.0,75.1 L118.5,75.1 L118.0,75.1 L117.5,75.7 L117.0,73.3 L116.5,74.0 L116.0,74.8 L115.5,73.6 L115.0,74.7 L114.5,74.5 L114.0,72.2 L113.5,72.5 L113.0,71.9 L112.5,73.9 L112.0,72.2 L111.5,70.6 L111.0,70.1 L110.5,70.9 L110.0,69.6 L109.5,70.7 L109.0,69.6 L108.5,71.0 L108.0,71.1 L107.5,72.9 L107.0,73.1 L106.5,72.7 L106.0,74.9 L105.5,72.5 L105.0,72.0 L104.5,71.0 L104.0,69.5 L103.5,67.3 L103.0,65.9 L102.5,65.7 L102.0,66.8 L101.5,67.7 L101.0,66.3 L100.5,64.7 L100.0,66.0 L99.5,65.6 L99.0,65.4 L98.5,65.1 L98.0,64.6 L97.5,64.0 L97.0,65.0 L96.5,65.7 L96.0,65.5 L95.5,63.0 L95.0,63.6 L94.5,65.1 L94.0,64.9 L93.5,65.5 L93.0,64.2 L92.5,62.1 L92.0,63.0 L91.5,62.4 L91.0,62.6 L90.5,61.4 L90.0,61.2 L89.5,61.5 L89.0,62.9 L88.5,62.4 L88.0,63.6 L87.5,63.2 L87.0,61.0 L86.5,62.3 L86.0,61.0 L85.5,62.3 L85.0,62.1 L84.5,65.6 L84.0,62.8 L83.5,66.1 L83.0,65.9 L82.5,66.3 L82.0,64.7 L81.5,66.2 L81.0,65.2 L80.5,60.7 L80.0,60.7 L79.5,58.2 L79.0,58.8 L78.5,58.4 L78.0,58.9 L77.5,56.8 L77.0,56.6 L76.5,57.8 L76.0,56.6 L75.5,58.0 L75.0,54.9 L74.5,56.7 L74.0,55.9 L73.5,55.9 L73.0,54.9 L72.5,53.7 L72.0,56.3 L71.5,53.3 L71.0,52.9 L70.5,54.3 L70.0,51.8 L69.5,51.5 L69.0,51.8 L68.5,53.3 L68.0,51.6 L67.5,53.8 L67.0,50.7 L66.5,52.5 L66.0,52.2 L65.5,50.0 L65.0,50.2 L64.5,51.5 L64.0,50.5 L63.5,50.5 L63.0,51.0 L62.5,50.1 L62.0,48.9 L61.5,51.9 Z" fill="#F7B820"/>
<path d="M417.0,187.3h1.2v1.2h-1.2z M418.1,184.8h1.2v1.2h-1.2z M423.2,185.9h1.2v1.2h-1.2z M413.9,186.6h1.2v1.2h-1.2z M419.6,175.7h1.2v1.2h-1.2z M432.3,214.3h1.2v1.2h-1.2z M418.6,183.9h1.2v1.2h-1.2z M413.1,185.2h1.2v1.2h-1.2z M428.1,193.6h1.2v1.2h-1.2z M430.0,196.4h1.2v1.2h-1.2z M429.6,212.3h1.2v1.2h-1.2z M415.2,175.6h1.2v1.2h-1.2z M418.8,186.6h1.2v1.2h-1.2z M414.7,187.2h1.2v1.2h-1.2z M427.7,195.1h1.2v1.2h-1.2z M414.0,179.7h1.2v1.2h-1.2z M426.7,195.3h1.2v1.2h-1.2z M431.1,196.0h1.2v1.2h-1.2z M433.1,222.3h1.2v1.2h-1.2z M433.5,205.9h1.2v1.2h-1.2z M403.5,163.6h1.2v1.2h-1.2z M420.2,174.8h1.2v1.2h-1.2z M426.5,195.5h1.2v1.2h-1.2z M433.6,216.9h1.2v1.2h-1.2z M427.3,197.2h1.2v1.2h-1.2z M429.9,219.9h1.2v1.2h-1.2z M417.0,187.9h1.2v1.2h-1.2z M413.2,180.8h1.2v1.2h-1.2z M401.3,166.3h1.2v1.2h-1.2z M426.7,201.0h1.2v1.2h-1.2z M414.7,179.9h1.2v1.2h-1.2z M407.7,168.2h1.2v1.2h-1.2z M424.5,197.4h1.2v1.2h-1.2z M421.2,192.4h1.2v1.2h-1.2z M402.2,160.2h1.2v1.2h-1.2z M426.0,182.8h1.2v1.2h-1.2z M416.7,182.8h1.2v1.2h-1.2z M430.1,194.3h1.2v1.2h-1.2z M408.0,167.9h1.2v1.2h-1.2z M424.4,193.2h1.2v1.2h-1.2z M431.1,203.6h1.2v1.2h-1.2z M411.7,176.8h1.2v1.2h-1.2z M403.9,160.4h1.2v1.2h-1.2z M401.2,160.1h1.2v1.2h-1.2z M429.4,191.0h1.2v1.2h-1.2z M423.5,191.7h1.2v1.2h-1.2z M423.1,195.3h1.2v1.2h-1.2z M432.9,218.6h1.2v1.2h-1.2z M425.7,192.0h1.2v1.2h-1.2z M427.5,192.3h1.2v1.2h-1.2z M405.6,162.0h1.2v1.2h-1.2z M428.3,185.2h1.2v1.2h-1.2z M419.3,185.0h1.2v1.2h-1.2z M428.1,192.1h1.2v1.2h-1.2z M425.6,191.5h1.2v1.2h-1.2z M428.1,205.4h1.2v1.2h-1.2z M431.4,202.1h1.2v1.2h-1.2z M429.8,202.9h1.2v1.2h-1.2z M423.4,182.5h1.2v1.2h-1.2z M407.9,162.1h1.2v1.2h-1.2z M428.5,212.2h1.2v1.2h-1.2z M402.9,162.0h1.2v1.2h-1.2z M429.7,207.5h1.2v1.2h-1.2z M419.8,178.4h1.2v1.2h-1.2z M409.9,176.2h1.2v1.2h-1.2z M406.7,172.4h1.2v1.2h-1.2z M421.1,182.4h1.2v1.2h-1.2z M407.3,161.0h1.2v1.2h-1.2z M405.9,160.1h1.2v1.2h-1.2z M400.9,160.5h1.2v1.2h-1.2z M427.7,205.0h1.2v1.2h-1.2z M421.8,185.8h1.2v1.2h-1.2z M407.9,160.1h1.2v1.2h-1.2z M420.6,185.0h1.2v1.2h-1.2z M423.4,195.7h1.2v1.2h-1.2z M408.7,167.8h1.2v1.2h-1.2z M434.1,215.6h1.2v1.2h-1.2z M418.7,180.0h1.2v1.2h-1.2z M424.6,190.1h1.2v1.2h-1.2z M433.3,225.6h1.2v1.2h-1.2z M419.2,180.7h1.2v1.2h-1.2z M415.9,171.9h1.2v1.2h-1.2z M410.4,171.4h1.2v1.2h-1.2z M423.9,193.6h1.2v1.2h-1.2z M420.8,181.7h1.2v1.2h-1.2z M422.2,176.8h1.2v1.2h-1.2z M421.1,196.8h1.2v1.2h-1.2z M424.8,199.1h1.2v1.2h-1.2z M400.4,166.3h1.2v1.2h-1.2z M428.4,192.6h1.2v1.2h-1.2z M409.3,164.2h1.2v1.2h-1.2z M422.6,179.4h1.2v1.2h-1.2z M411.6,167.0h1.2v1.2h-1.2z M429.2,209.1h1.2v1.2h-1.2z M421.8,177.5h1.2v1.2h-1.2z M412.9,179.9h1.2v1.2h-1.2z M414.3,179.4h1.2v1.2h-1.2z M432.8,227.9h1.2v1.2h-1.2z M425.3,191.5h1.2v1.2h-1.2z M417.0,181.9h1.2v1.2h-1.2z M431.3,224.4h1.2v1.2h-1.2z M422.1,195.0h1.2v1.2h-1.2z M430.3,216.1h1.2v1.2h-1.2z M428.2,210.8h1.2v1.2h-1.2z M414.6,186.5h1.2v1.2h-1.2z M424.5,183.2h1.2v1.2h-1.2z M427.1,189.2h1.2v1.2h-1.2z M421.7,197.2h1.2v1.2h-1.2z" fill="#fff"/>
</g>
<path d="M78.2,47.7 v4.9 M101.8,58.4 v5.9 M125.3,65.2 v4.4 M148.9,74.0 v5.3 M172.5,80.8 v5.4 M196.1,87.7 v5.7 M219.6,94.8 v5.3 M243.2,100.4 v4.7 M266.8,108.1 v4.9 M290.4,114.4 v5.0 M313.9,120.0 v5.2 M337.5,123.7 v5.1 M361.1,129.6 v4.2" stroke="#111" stroke-width="1" fill="none"/>
<path d="M335.2,140.4h1 M75.2,52.5h1 M90.8,58.4h1 M307.5,129.4h1 M258.8,115.8h1 M270.9,120.3h1 M376.8,149.5h1 M269.3,119.8h1 M195.0,96.3h1 M375.1,147.0h1 M80.5,56.8h1 M117.4,70.6h1 M220.1,102.1h1 M297.5,123.9h1 M116.6,68.1h1 M99.8,60.7h1 M80.4,55.5h1 M70.4,47.7h1 M185.6,94.6h1 M67.6,48.8h1 M97.5,60.0h1 M303.4,122.4h1 M74.5,50.9h1 M190.2,93.2h1 M139.7,76.9h1 M170.1,86.3h1 M149.1,75.9h1 M322.4,135.1h1 M308.2,123.7h1 M71.8,51.5h1 M176.4,89.5h1 M178.0,91.5h1 M93.8,59.1h1 M103.8,64.7h1 M65.7,48.2h1 M270.8,119.2h1 M126.4,70.3h1 M95.9,61.3h1 M221.8,98.4h1 M68.5,45.6h1 M120.7,69.4h1 M216.9,96.4h1 M317.1,127.6h1 M253.4,107.8h1 M146.9,77.5h1 M131.6,73.6h1 M86.5,56.4h1 M296.2,124.7h1 M341.5,137.3h1 M247.2,106.4h1 M301.3,122.9h1 M170.6,83.3h1 M76.3,50.7h1 M341.4,135.4h1 M213.2,102.1h1 M365.8,143.4h1 M242.2,103.0h1 M275.3,118.9h1 M162.2,83.8h1 M350.0,132.7h1 M329.7,137.8h1 M321.0,127.3h1 M166.6,83.1h1 M255.9,109.8h1 M277.4,118.4h1 M282.1,115.8h1 M175.0,89.2h1 M209.0,99.3h1 M217.6,95.9h1 M283.0,121.0h1 M243.5,109.3h1 M94.7,59.8h1 M129.9,69.4h1 M192.6,89.4h1 M206.6,98.6h1 M344.6,136.6h1 M333.6,131.5h1 M373.9,143.2h1 M174.5,86.7h1 M176.8,84.4h1 M131.6,74.0h1 M225.8,104.7h1 M330.3,129.2h1 M193.4,92.6h1 M153.3,79.1h1 M221.8,104.5h1 M251.5,107.7h1 M354.8,140.8h1 M380.0,147.2h1 M301.6,124.7h1 M267.3,112.1h1 M384.3,151.6h1 M160.6,83.7h1 M278.0,121.8h1 M182.4,90.9h1 M148.1,78.4h1 M305.0,123.8h1 M181.7,88.2h1 M363.5,145.1h1 M76.2,49.3h1 M166.9,85.5h1 M380.3,148.9h1 M378.2,142.3h1 M381.2,144.2h1 M223.0,105.6h1 M187.0,88.9h1 M199.0,97.0h1 M253.1,109.2h1 M368.9,143.1h1 M252.1,113.3h1 M336.6,136.5h1 M298.5,121.5h1 M147.6,78.5h1 M283.5,117.0h1 M257.9,115.6h1 M178.3,90.4h1 M275.5,116.5h1 M105.4,62.2h1 M350.6,141.8h1 M253.6,107.8h1 M218.2,103.4h1 M257.2,108.2h1 M355.2,145.9h1 M341.6,131.4h1 M112.4,67.5h1 M324.8,132.9h1 M309.2,124.1h1 M239.0,106.0h1 M210.9,96.3h1 M282.5,120.5h1 M243.7,106.2h1 M247.3,112.5h1 M214.5,95.0h1 M292.4,118.7h1 M255.0,109.8h1 M336.0,139.6h1 M195.4,90.0h1 M220.9,99.9h1 M161.8,83.2h1 M137.4,71.8h1 M162.0,83.0h1 M63.3,46.4h1 M80.7,57.3h1 M79.5,51.3h1 M288.7,121.2h1 M213.4,99.6h1 M150.2,78.9h1 M361.9,145.5h1 M82.0,54.1h1 M252.2,108.9h1 M312.2,133.1h1 M364.7,145.4h1 M109.3,65.2h1 M270.0,114.7h1 M243.8,108.9h1 M296.1,124.7h1 M342.0,131.9h1 M242.2,105.2h1 M307.4,128.2h1 M346.8,142.1h1" stroke="#E4561C" stroke-width="1" fill="none" opacity="0.8"/>
<g font-family="'Liberation Serif', serif" fill="#1a1a1a" stroke="#1a1a1a" stroke-width="0.35">
<g font-size="20" text-anchor="middle">
<text x="61.3" y="257">0.0</text>
<text x="155.6" y="257">2.0</text>
<text x="249.9" y="257">4.0</text>
<text x="344.2" y="257">6.0</text>
<text x="438.5" y="257">8.0</text>
<text x="532.8" y="257">10.0</text>
</g>
<g font-size="20" text-anchor="end">
<text x="55" y="57">400</text>
<text x="55" y="137.3">350</text>
<text x="55" y="217.6">300</text>
</g>
<text x="297" y="282" font-size="21.3" text-anchor="middle">Time h</text>
<text transform="translate(17,136) rotate(-90)" font-size="21.6" text-anchor="middle">Pack voltage V</text>
</g>
<g>
<rect x="76.5" y="1.5" width="442" height="24.4" fill="#fff" stroke="#606060" stroke-width="1.05"/>
<path d="M80,14.5 H122" stroke="#000" stroke-width="3.8"/>
<path d="M231.5,14.3 H273.5" stroke="#0072C4" stroke-width="2" stroke-dasharray="2.6 1.2"/>
<path d="M325.2,14.3 H368" stroke="#E4561C" stroke-width="2" stroke-dasharray="2.6 1.2"/>
<path d="M420,14.3 H462.7" stroke="#F7B820" stroke-width="2" stroke-dasharray="2.6 1.2"/>
<g font-family="'Liberation Serif', serif" font-size="17.7" fill="#1a1a1a" stroke="#1a1a1a" stroke-width="0.3">
<text x="126.5" y="20.3">1st (standard)</text>
<text x="276.8" y="20.3">400th</text>
<text x="370.1" y="20.3">700th</text>
<text x="466.5" y="20.3">1000th</text>
</g>
</g>
</svg></body></html>
